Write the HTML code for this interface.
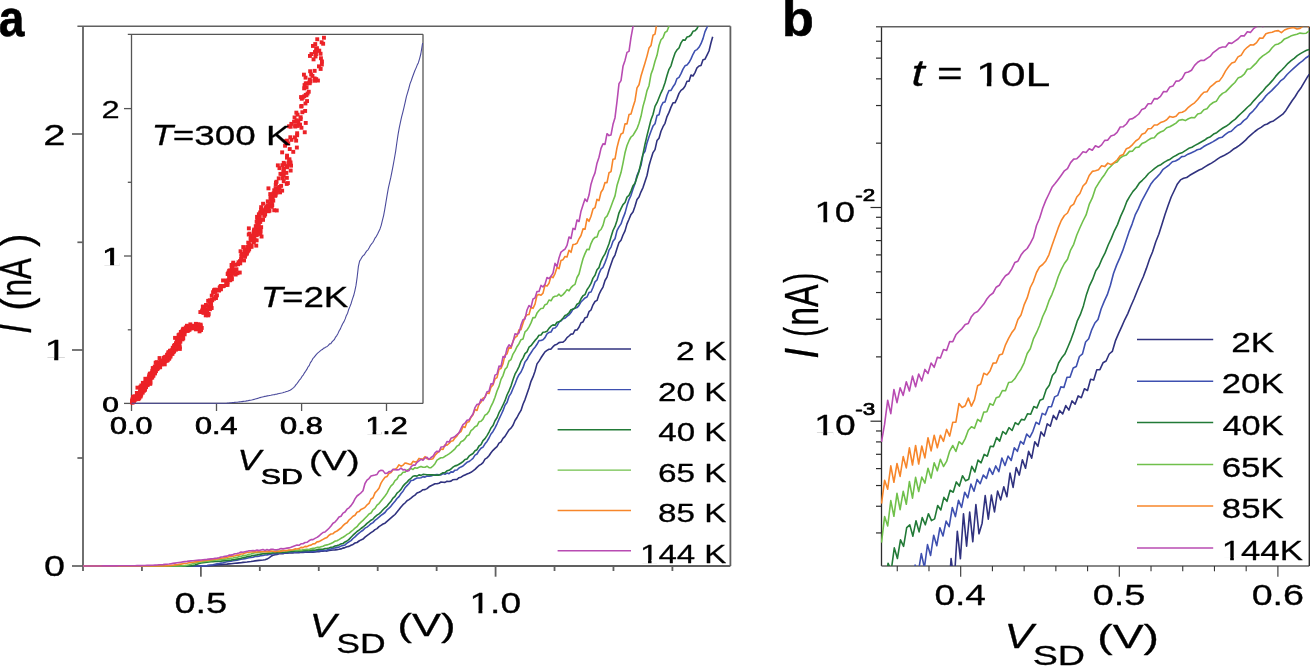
<!DOCTYPE html>
<html><head><meta charset="utf-8"><style>
html,body{margin:0;padding:0;background:#fff;}
svg{display:block;font-family:"Liberation Sans",sans-serif;filter:blur(0.35px);}
</style></head><body>
<svg width="1310" height="666" viewBox="0 0 1310 666">
<rect width="1310" height="666" fill="#fff"/>
<defs><clipPath id="ca"><rect x="82" y="26.3" width="648.4" height="540.7"/></clipPath><clipPath id="ci"><rect x="130.5" y="34.3" width="292.5" height="370"/></clipPath><clipPath id="cb"><rect x="880.8" y="26.7" width="428.5" height="539.3"/></clipPath></defs>
<line x1="83.00" y1="26.30" x2="83.00" y2="571.00" stroke="#606060" stroke-width="1.8"/>
<line x1="83.00" y1="566.00" x2="730.40" y2="566.00" stroke="#606060" stroke-width="1.8"/>
<line x1="730.40" y1="26.30" x2="730.40" y2="566.00" stroke="#606060" stroke-width="1.8"/>
<line x1="77.40" y1="26.30" x2="730.40" y2="26.30" stroke="#606060" stroke-width="1.6"/>
<line x1="72.00" y1="566.00" x2="83.00" y2="566.00" stroke="#606060" stroke-width="1.7"/>
<line x1="72.00" y1="350.00" x2="83.00" y2="350.00" stroke="#606060" stroke-width="1.7"/>
<line x1="72.00" y1="134.00" x2="83.00" y2="134.00" stroke="#606060" stroke-width="1.7"/>
<line x1="77.40" y1="458.00" x2="83.00" y2="458.00" stroke="#606060" stroke-width="1.7"/>
<line x1="77.40" y1="242.30" x2="83.00" y2="242.30" stroke="#606060" stroke-width="1.7"/>
<line x1="200.88" y1="566.00" x2="200.88" y2="576.70" stroke="#606060" stroke-width="1.8"/>
<line x1="495.58" y1="566.00" x2="495.58" y2="576.70" stroke="#606060" stroke-width="1.8"/>
<line x1="141.94" y1="566.00" x2="141.94" y2="571.00" stroke="#606060" stroke-width="1.8"/>
<line x1="259.82" y1="566.00" x2="259.82" y2="571.00" stroke="#606060" stroke-width="1.8"/>
<line x1="318.76" y1="566.00" x2="318.76" y2="571.00" stroke="#606060" stroke-width="1.8"/>
<line x1="377.70" y1="566.00" x2="377.70" y2="571.00" stroke="#606060" stroke-width="1.8"/>
<line x1="436.64" y1="566.00" x2="436.64" y2="571.00" stroke="#606060" stroke-width="1.8"/>
<line x1="554.52" y1="566.00" x2="554.52" y2="571.00" stroke="#606060" stroke-width="1.8"/>
<line x1="613.46" y1="566.00" x2="613.46" y2="571.00" stroke="#606060" stroke-width="1.8"/>
<line x1="672.40" y1="566.00" x2="672.40" y2="571.00" stroke="#606060" stroke-width="1.8"/>
<line x1="131.50" y1="34.30" x2="131.50" y2="411.00" stroke="#555555" stroke-width="1.3"/>
<line x1="131.50" y1="403.40" x2="423.00" y2="403.40" stroke="#555555" stroke-width="1.3"/>
<line x1="423.00" y1="34.30" x2="423.00" y2="403.40" stroke="#555555" stroke-width="1.3"/>
<line x1="127.80" y1="34.30" x2="423.00" y2="34.30" stroke="#555555" stroke-width="1.3"/>
<line x1="124.00" y1="403.40" x2="131.50" y2="403.40" stroke="#555555" stroke-width="1.3"/>
<line x1="124.00" y1="256.00" x2="131.50" y2="256.00" stroke="#555555" stroke-width="1.3"/>
<line x1="124.00" y1="108.60" x2="131.50" y2="108.60" stroke="#555555" stroke-width="1.3"/>
<line x1="127.80" y1="329.80" x2="131.50" y2="329.80" stroke="#555555" stroke-width="1.3"/>
<line x1="127.80" y1="182.30" x2="131.50" y2="182.30" stroke="#555555" stroke-width="1.3"/>
<line x1="216.50" y1="403.40" x2="216.50" y2="411.00" stroke="#555555" stroke-width="1.3"/>
<line x1="301.60" y1="403.40" x2="301.60" y2="411.00" stroke="#555555" stroke-width="1.3"/>
<line x1="386.50" y1="403.40" x2="386.50" y2="411.00" stroke="#555555" stroke-width="1.3"/>
<line x1="881.50" y1="26.70" x2="881.50" y2="566.00" stroke="#2c2c2c" stroke-width="1.3"/>
<line x1="881.50" y1="566.00" x2="1309.30" y2="566.00" stroke="#606060" stroke-width="1.6"/>
<line x1="1309.30" y1="26.70" x2="1309.30" y2="566.00" stroke="#2c2c2c" stroke-width="1.4"/>
<line x1="876.00" y1="26.70" x2="1309.30" y2="26.70" stroke="#606060" stroke-width="1.5"/>
<line x1="870.50" y1="207.50" x2="881.50" y2="207.50" stroke="#2c2c2c" stroke-width="1.2"/>
<line x1="870.50" y1="421.20" x2="881.50" y2="421.20" stroke="#2c2c2c" stroke-width="1.2"/>
<line x1="876.00" y1="143.17" x2="881.50" y2="143.17" stroke="#2c2c2c" stroke-width="1.2"/>
<line x1="876.00" y1="105.54" x2="881.50" y2="105.54" stroke="#2c2c2c" stroke-width="1.2"/>
<line x1="876.00" y1="78.84" x2="881.50" y2="78.84" stroke="#2c2c2c" stroke-width="1.2"/>
<line x1="876.00" y1="58.13" x2="881.50" y2="58.13" stroke="#2c2c2c" stroke-width="1.2"/>
<line x1="876.00" y1="41.21" x2="881.50" y2="41.21" stroke="#2c2c2c" stroke-width="1.2"/>
<line x1="876.00" y1="356.87" x2="881.50" y2="356.87" stroke="#2c2c2c" stroke-width="1.2"/>
<line x1="876.00" y1="319.24" x2="881.50" y2="319.24" stroke="#2c2c2c" stroke-width="1.2"/>
<line x1="876.00" y1="292.54" x2="881.50" y2="292.54" stroke="#2c2c2c" stroke-width="1.2"/>
<line x1="876.00" y1="271.83" x2="881.50" y2="271.83" stroke="#2c2c2c" stroke-width="1.2"/>
<line x1="876.00" y1="254.91" x2="881.50" y2="254.91" stroke="#2c2c2c" stroke-width="1.2"/>
<line x1="876.00" y1="240.60" x2="881.50" y2="240.60" stroke="#2c2c2c" stroke-width="1.2"/>
<line x1="876.00" y1="228.21" x2="881.50" y2="228.21" stroke="#2c2c2c" stroke-width="1.2"/>
<line x1="876.00" y1="217.28" x2="881.50" y2="217.28" stroke="#2c2c2c" stroke-width="1.2"/>
<line x1="876.00" y1="532.94" x2="881.50" y2="532.94" stroke="#2c2c2c" stroke-width="1.2"/>
<line x1="876.00" y1="506.24" x2="881.50" y2="506.24" stroke="#2c2c2c" stroke-width="1.2"/>
<line x1="876.00" y1="485.53" x2="881.50" y2="485.53" stroke="#2c2c2c" stroke-width="1.2"/>
<line x1="876.00" y1="468.61" x2="881.50" y2="468.61" stroke="#2c2c2c" stroke-width="1.2"/>
<line x1="876.00" y1="454.30" x2="881.50" y2="454.30" stroke="#2c2c2c" stroke-width="1.2"/>
<line x1="876.00" y1="441.91" x2="881.50" y2="441.91" stroke="#2c2c2c" stroke-width="1.2"/>
<line x1="876.00" y1="430.98" x2="881.50" y2="430.98" stroke="#2c2c2c" stroke-width="1.2"/>
<line x1="897.26" y1="566.00" x2="897.26" y2="571.30" stroke="#333333" stroke-width="1.1"/>
<line x1="928.98" y1="566.00" x2="928.98" y2="571.30" stroke="#333333" stroke-width="1.1"/>
<line x1="960.70" y1="566.00" x2="960.70" y2="576.70" stroke="#333333" stroke-width="1.1"/>
<line x1="992.42" y1="566.00" x2="992.42" y2="571.30" stroke="#333333" stroke-width="1.1"/>
<line x1="1024.14" y1="566.00" x2="1024.14" y2="571.30" stroke="#333333" stroke-width="1.1"/>
<line x1="1055.86" y1="566.00" x2="1055.86" y2="571.30" stroke="#333333" stroke-width="1.1"/>
<line x1="1087.58" y1="566.00" x2="1087.58" y2="571.30" stroke="#333333" stroke-width="1.1"/>
<line x1="1119.30" y1="566.00" x2="1119.30" y2="576.70" stroke="#333333" stroke-width="1.1"/>
<line x1="1151.02" y1="566.00" x2="1151.02" y2="571.30" stroke="#333333" stroke-width="1.1"/>
<line x1="1182.74" y1="566.00" x2="1182.74" y2="571.30" stroke="#333333" stroke-width="1.1"/>
<line x1="1214.46" y1="566.00" x2="1214.46" y2="571.30" stroke="#333333" stroke-width="1.1"/>
<line x1="1246.18" y1="566.00" x2="1246.18" y2="571.30" stroke="#333333" stroke-width="1.1"/>
<line x1="1277.90" y1="566.00" x2="1277.90" y2="576.70" stroke="#333333" stroke-width="1.1"/>
<polyline points="83.0,566.0 85.0,566.0 87.0,566.0 89.0,566.0 91.0,566.0 93.0,566.0 95.0,566.0 97.0,566.0 99.0,566.0 101.0,566.0 103.0,566.0 105.0,566.0 107.0,566.0 109.0,566.0 111.0,566.0 113.0,566.0 115.0,566.0 117.0,566.0 119.0,566.0 121.0,566.0 123.0,566.0 125.0,566.0 127.0,566.0 129.0,566.0 131.0,566.0 133.0,566.0 135.0,566.0 137.0,566.0 139.0,566.0 141.0,566.0 143.0,566.0 145.0,566.0 147.0,566.0 149.0,566.0 151.0,566.0 153.0,566.0 155.0,566.0 157.0,566.0 159.0,566.0 161.0,566.0 163.0,566.0 165.0,566.0 167.0,566.0 169.0,566.0 171.0,566.0 173.0,566.0 175.0,566.0 177.0,566.0 179.0,566.0 181.0,566.0 183.0,566.0 185.0,566.0 187.0,566.0 189.0,566.0 191.0,566.0 193.0,566.0 195.0,566.0 197.0,566.0 199.0,566.0 201.0,566.0 203.0,566.0 205.0,565.9 207.0,565.8 209.0,565.6 211.0,565.5 213.0,565.3 215.0,565.1 217.0,564.9 219.0,564.8 221.0,564.6 223.0,564.4 225.0,564.2 227.0,564.1 229.0,563.9 231.0,563.7 233.0,563.5 235.0,563.3 237.0,563.1 239.0,562.9 241.0,562.7 243.0,562.4 245.0,562.2 247.0,562.0 249.0,561.7 251.0,561.5 253.0,561.2 255.0,560.9 257.0,560.6 259.0,560.4 261.0,560.2 263.0,560.0 265.0,559.7 267.0,559.1 269.0,557.8 271.0,556.3 273.0,555.3 275.0,554.8 277.0,554.5 279.0,553.8 281.0,553.6 283.0,553.7 285.0,553.1 287.0,553.3 289.0,552.9 291.0,552.7 293.0,552.9 295.0,552.5 297.0,552.7 299.0,552.7 301.0,552.2 303.0,552.4 305.0,552.1 307.0,552.3 309.0,552.3 311.0,552.2 313.0,552.1 315.0,552.0 317.0,551.6 319.0,551.6 321.0,551.2 323.0,551.1 325.0,550.8 327.0,551.1 329.0,550.5 331.0,550.2 333.0,550.0 335.0,549.9 337.0,549.6 339.0,549.3 341.0,548.9 343.0,548.1 345.0,547.6 347.0,546.8 349.0,546.4 351.0,545.2 353.0,544.4 355.0,543.0 357.0,542.5 359.0,541.0 361.0,539.9 363.0,539.1 365.0,537.1 367.0,535.6 369.0,534.2 371.0,532.7 373.0,531.4 375.0,529.6 377.0,528.6 379.0,526.6 381.0,525.3 383.0,524.0 385.0,523.2 387.0,521.3 389.0,519.6 391.0,517.9 393.0,516.2 395.0,514.5 397.0,512.0 399.0,509.6 401.0,507.0 403.0,504.7 405.0,503.0 407.0,500.8 409.0,499.6 411.0,498.1 413.0,496.4 415.0,495.1 417.0,493.0 419.0,492.2 421.0,491.2 423.0,489.7 425.0,489.6 427.0,488.6 429.0,486.8 431.0,485.7 433.0,484.8 435.0,483.7 437.0,483.7 439.0,483.2 441.0,482.0 443.0,482.3 445.0,482.4 447.0,481.3 449.0,481.5 451.0,481.1 453.0,479.7 455.0,479.5 457.0,479.4 459.0,477.7 461.0,477.2 463.0,475.8 465.0,474.9 467.0,474.0 469.0,473.3 471.0,472.3 473.0,470.9 475.0,469.4 477.0,467.4 479.0,465.5 481.0,464.4 483.0,462.6 485.0,459.1 487.0,457.9 489.0,455.8 491.0,452.7 493.0,450.3 495.0,448.4 497.0,446.6 499.0,443.1 501.0,441.9 503.0,438.3 505.0,436.4 507.0,433.1 509.0,429.8 511.0,428.1 513.0,425.3 515.0,420.5 517.0,417.5 519.0,413.7 521.0,410.4 523.0,404.2 525.0,399.6 527.0,393.8 529.0,388.1 531.0,381.3 533.0,376.9 535.0,371.3 537.0,363.9 539.0,361.1 541.0,357.8 543.0,354.8 545.0,351.9 547.0,350.4 549.0,349.2 551.0,349.1 553.0,346.7 555.0,344.9 557.0,344.2 559.0,342.6 561.0,342.2 563.0,342.1 565.0,340.5 567.0,337.6 569.0,336.0 571.0,334.1 573.0,334.0 575.0,330.1 577.0,329.9 579.0,327.2 581.0,322.7 583.0,321.9 585.0,317.8 587.0,317.2 589.0,311.7 591.0,310.0 593.0,304.8 595.0,301.5 597.0,300.4 599.0,294.5 601.0,290.4 603.0,287.1 605.0,280.5 607.0,277.1 609.0,270.0 611.0,264.3 613.0,258.5 615.0,255.1 617.0,248.6 619.0,242.6 621.0,240.2 623.0,235.0 625.0,230.9 627.0,223.9 629.0,219.3 631.0,214.4 633.0,211.9 635.0,206.3 637.0,199.5 639.0,197.0 641.0,191.8 643.0,187.6 645.0,181.4 647.0,175.5 649.0,165.8 651.0,158.9 653.0,152.6 655.0,149.6 657.0,140.6 659.0,138.2 661.0,131.2 663.0,126.7 665.0,123.3 667.0,116.6 669.0,112.4 671.0,107.1 673.0,102.8 675.0,102.8 677.0,98.6 679.0,93.4 681.0,90.4 683.0,88.9 685.0,86.2 687.0,81.2 689.0,81.3 691.0,75.1 693.0,76.0 695.0,72.6 697.0,67.8 699.0,66.0 701.0,65.5 703.0,59.8 705.0,59.2 707.0,55.1 709.0,51.0 711.0,42.8 712.7,36.8" fill="none" stroke="#30327f" stroke-width="1.6" stroke-linejoin="round" clip-path="url(#ca)"/>
<polyline points="83.0,566.0 85.0,566.0 87.0,566.0 89.0,566.0 91.0,566.0 93.0,566.0 95.0,566.0 97.0,566.0 99.0,566.0 101.0,566.0 103.0,566.0 105.0,566.0 107.0,566.0 109.0,566.0 111.0,566.0 113.0,566.0 115.0,566.0 117.0,566.0 119.0,566.0 121.0,566.0 123.0,566.0 125.0,566.0 127.0,566.0 129.0,566.0 131.0,566.0 133.0,566.0 135.0,566.0 137.0,566.0 139.0,566.0 141.0,566.0 143.0,566.0 145.0,566.0 147.0,566.0 149.0,566.0 151.0,566.0 153.0,566.0 155.0,566.0 157.0,566.0 159.0,566.0 161.0,566.0 163.0,566.0 165.0,566.0 167.0,566.0 169.0,566.0 171.0,566.0 173.0,566.0 175.0,566.0 177.0,566.0 179.0,566.0 181.0,566.0 183.0,566.0 185.0,566.0 187.0,566.0 189.0,566.0 191.0,566.0 193.0,566.0 195.0,566.0 197.0,566.0 199.0,566.0 201.0,566.0 203.0,565.9 205.0,565.8 207.0,565.6 209.0,565.3 211.0,565.0 213.0,564.7 215.0,564.3 217.0,563.9 219.0,563.5 221.0,563.1 223.0,562.7 225.0,562.2 227.0,561.8 229.0,561.5 231.0,561.1 233.0,560.8 235.0,560.4 237.0,560.1 239.0,559.7 241.0,559.3 243.0,559.0 245.0,558.6 247.0,558.2 249.0,557.8 251.0,557.5 253.0,557.2 255.0,556.5 257.0,556.4 259.0,556.2 261.0,555.6 263.0,555.5 265.0,555.0 267.0,554.9 269.0,554.4 271.0,554.1 273.0,553.7 275.0,553.8 277.0,553.7 279.0,553.2 281.0,553.2 283.0,553.0 285.0,552.7 287.0,552.6 289.0,552.1 291.0,552.0 293.0,552.2 295.0,552.1 297.0,551.9 299.0,551.9 301.0,551.7 303.0,551.8 305.0,551.6 307.0,551.4 309.0,551.5 311.0,551.6 313.0,551.2 315.0,551.4 317.0,550.8 319.0,550.8 321.0,550.6 323.0,550.4 325.0,550.4 327.0,550.1 329.0,549.6 331.0,548.9 333.0,548.3 335.0,547.9 337.0,547.4 339.0,547.1 341.0,546.1 343.0,545.5 345.0,544.9 347.0,543.2 349.0,541.8 351.0,540.6 353.0,538.5 355.0,536.9 357.0,534.9 359.0,533.2 361.0,531.5 363.0,530.3 365.0,528.1 367.0,527.1 369.0,525.5 371.0,523.7 373.0,522.6 375.0,520.4 377.0,518.9 379.0,517.2 381.0,515.4 383.0,514.0 385.0,512.5 387.0,509.8 389.0,508.2 391.0,506.1 393.0,503.5 395.0,501.3 397.0,498.5 399.0,496.6 401.0,493.5 403.0,491.2 405.0,487.8 407.0,485.6 409.0,483.5 411.0,480.5 413.0,480.2 415.0,479.0 417.0,478.0 419.0,478.0 421.0,477.7 423.0,476.6 425.0,477.1 427.0,476.0 429.0,476.2 431.0,475.9 433.0,475.2 435.0,474.7 437.0,474.6 439.0,474.9 441.0,474.9 443.0,473.5 445.0,474.2 447.0,473.1 449.0,473.7 451.0,471.9 453.0,472.1 455.0,470.2 457.0,470.0 459.0,468.0 461.0,466.9 463.0,466.0 465.0,464.1 467.0,462.3 469.0,461.6 471.0,460.0 473.0,458.3 475.0,455.1 477.0,454.0 479.0,450.7 481.0,448.3 483.0,447.1 485.0,443.8 487.0,441.4 489.0,438.0 491.0,434.0 493.0,431.4 495.0,427.8 497.0,423.8 499.0,419.2 501.0,415.0 503.0,410.7 505.0,405.2 507.0,402.6 509.0,396.4 511.0,393.4 513.0,388.5 515.0,384.0 517.0,378.7 519.0,374.7 521.0,372.0 523.0,367.7 525.0,362.0 527.0,359.6 529.0,355.7 531.0,352.7 533.0,349.6 535.0,347.2 537.0,344.3 539.0,340.6 541.0,340.5 543.0,339.7 545.0,337.6 547.0,333.8 549.0,332.4 551.0,332.0 553.0,328.3 555.0,328.0 557.0,326.0 559.0,322.1 561.0,320.9 563.0,318.7 565.0,318.2 567.0,316.3 569.0,314.9 571.0,312.6 573.0,309.0 575.0,308.2 577.0,307.6 579.0,305.4 581.0,301.8 583.0,300.0 585.0,297.9 587.0,297.0 589.0,292.6 591.0,292.0 593.0,287.5 595.0,281.9 597.0,280.0 599.0,273.8 601.0,269.1 603.0,267.3 605.0,262.6 607.0,257.3 609.0,250.1 611.0,247.1 613.0,241.3 615.0,238.7 617.0,230.6 619.0,226.9 621.0,223.9 623.0,218.1 625.0,213.1 627.0,205.6 629.0,199.6 631.0,195.3 633.0,189.1 635.0,183.5 637.0,175.5 639.0,170.8 641.0,165.3 643.0,154.3 645.0,151.2 647.0,142.9 649.0,136.7 651.0,131.2 653.0,126.1 655.0,123.8 657.0,115.6 659.0,114.8 661.0,106.5 663.0,102.6 665.0,101.9 667.0,95.3 669.0,90.5 671.0,90.4 673.0,86.8 675.0,84.1 677.0,78.6 679.0,77.4 681.0,73.6 683.0,69.1 685.0,65.8 687.0,64.9 689.0,62.6 691.0,58.9 693.0,54.3 695.0,50.6 697.0,49.6 699.0,47.3 701.0,43.7 703.0,38.6 705.0,31.6 707.0,27.3 709.0,22.5 711.0,16.4 712.0,16.5" fill="none" stroke="#3e50b0" stroke-width="1.6" stroke-linejoin="round" clip-path="url(#ca)"/>
<polyline points="83.0,566.0 85.0,566.0 87.0,566.0 89.0,566.0 91.0,566.0 93.0,566.0 95.0,566.0 97.0,566.0 99.0,566.0 101.0,566.0 103.0,566.0 105.0,566.0 107.0,566.0 109.0,566.0 111.0,566.0 113.0,566.0 115.0,566.0 117.0,566.0 119.0,566.0 121.0,566.0 123.0,566.0 125.0,566.0 127.0,566.0 129.0,566.0 131.0,566.0 133.0,566.0 135.0,566.0 137.0,566.0 139.0,566.0 141.0,566.0 143.0,566.0 145.0,566.0 147.0,566.0 149.0,566.0 151.0,566.0 153.0,566.0 155.0,566.0 157.0,566.0 159.0,566.0 161.0,566.0 163.0,566.0 165.0,566.0 167.0,566.0 169.0,566.0 171.0,566.0 173.0,566.0 175.0,566.0 177.0,566.0 179.0,566.0 181.0,566.0 183.0,566.0 185.0,566.0 187.0,566.0 189.0,566.0 191.0,565.9 193.0,565.5 195.0,564.9 197.0,564.2 199.0,563.5 201.0,563.0 203.0,562.7 205.0,562.4 207.0,562.2 209.0,562.0 211.0,561.8 213.0,561.7 215.0,561.5 217.0,561.4 219.0,561.2 221.0,561.1 223.0,560.9 225.0,560.7 227.0,560.5 229.0,560.3 231.0,560.1 233.0,559.8 235.0,559.5 237.0,559.1 239.0,558.7 241.0,558.3 243.0,557.8 245.0,557.4 247.0,556.7 249.0,556.2 251.0,556.1 253.0,555.5 255.0,555.2 257.0,554.9 259.0,554.5 261.0,554.1 263.0,553.7 265.0,553.7 267.0,553.5 269.0,553.0 271.0,553.2 273.0,552.7 275.0,552.5 277.0,552.6 279.0,552.2 281.0,552.4 283.0,552.2 285.0,552.1 287.0,551.9 289.0,551.7 291.0,551.3 293.0,551.5 295.0,551.0 297.0,551.0 299.0,551.0 301.0,550.9 303.0,550.6 305.0,550.8 307.0,550.4 309.0,550.3 311.0,550.4 313.0,550.0 315.0,550.2 317.0,549.7 319.0,549.3 321.0,549.3 323.0,549.3 325.0,548.5 327.0,548.5 329.0,548.0 331.0,547.2 333.0,547.0 335.0,546.0 337.0,545.6 339.0,545.0 341.0,543.9 343.0,543.5 345.0,542.0 347.0,541.0 349.0,539.4 351.0,537.2 353.0,535.2 355.0,533.3 357.0,531.5 359.0,530.2 361.0,528.5 363.0,527.0 365.0,525.4 367.0,523.4 369.0,521.8 371.0,520.2 373.0,519.1 375.0,516.8 377.0,515.1 379.0,513.8 381.0,512.1 383.0,509.8 385.0,507.8 387.0,506.1 389.0,503.5 391.0,501.2 393.0,498.1 395.0,496.3 397.0,493.1 399.0,491.5 401.0,489.4 403.0,486.1 405.0,483.9 407.0,482.1 409.0,479.9 411.0,478.3 413.0,476.3 415.0,475.8 417.0,476.1 419.0,474.9 421.0,475.4 423.0,474.4 425.0,474.5 427.0,474.8 429.0,474.9 431.0,474.7 433.0,474.9 435.0,475.2 437.0,475.1 439.0,475.1 441.0,473.9 443.0,472.8 445.0,472.6 447.0,470.8 449.0,470.3 451.0,469.0 453.0,467.2 455.0,465.9 457.0,465.4 459.0,464.2 461.0,463.0 463.0,461.6 465.0,459.5 467.0,458.9 469.0,456.2 471.0,454.7 473.0,453.5 475.0,450.8 477.0,449.7 479.0,446.0 481.0,444.7 483.0,440.6 485.0,438.6 487.0,435.6 489.0,432.1 491.0,428.0 493.0,425.6 495.0,420.8 497.0,417.7 499.0,412.7 501.0,409.1 503.0,405.0 505.0,400.7 507.0,395.0 509.0,390.8 511.0,386.1 513.0,379.7 515.0,374.2 517.0,370.6 519.0,366.6 521.0,361.3 523.0,358.1 525.0,353.7 527.0,351.9 529.0,347.2 531.0,345.7 533.0,343.0 535.0,340.4 537.0,338.3 539.0,335.3 541.0,335.0 543.0,332.2 545.0,332.0 547.0,331.2 549.0,328.4 551.0,326.2 553.0,324.9 555.0,325.3 557.0,322.2 559.0,321.8 561.0,320.3 563.0,318.3 565.0,315.5 567.0,314.7 569.0,312.8 571.0,309.7 573.0,309.3 575.0,307.9 577.0,304.2 579.0,303.1 581.0,298.8 583.0,295.7 585.0,294.6 587.0,289.8 589.0,286.9 591.0,283.4 593.0,278.1 595.0,275.3 597.0,269.8 599.0,267.6 601.0,261.3 603.0,257.2 605.0,253.9 607.0,249.0 609.0,243.8 611.0,237.0 613.0,230.5 615.0,226.4 617.0,220.5 619.0,212.8 621.0,208.6 623.0,204.6 625.0,202.5 627.0,197.1 629.0,195.4 631.0,191.1 633.0,185.7 635.0,183.3 637.0,177.2 639.0,171.5 641.0,162.5 643.0,153.9 645.0,144.2 647.0,135.6 649.0,127.6 651.0,119.8 653.0,114.5 655.0,106.4 657.0,102.7 659.0,97.7 661.0,92.8 663.0,88.6 665.0,82.8 667.0,75.5 669.0,69.3 671.0,65.8 673.0,59.0 675.0,53.2 677.0,49.9 679.0,48.0 681.0,42.9 683.0,39.9 685.0,40.3 687.0,37.0 689.0,36.5 691.0,35.0 693.0,31.3 695.0,30.8 697.0,28.6 699.0,24.3 701.0,23.4 703.0,18.2 705.0,14.0" fill="none" stroke="#227a37" stroke-width="1.6" stroke-linejoin="round" clip-path="url(#ca)"/>
<polyline points="83.0,566.0 85.0,566.0 87.0,566.0 89.0,566.0 91.0,566.0 93.0,566.0 95.0,566.0 97.0,566.0 99.0,566.0 101.0,566.0 103.0,566.0 105.0,566.0 107.0,566.0 109.0,566.0 111.0,566.0 113.0,566.0 115.0,566.0 117.0,566.0 119.0,566.0 121.0,566.0 123.0,566.0 125.0,566.0 127.0,566.0 129.0,566.0 131.0,566.0 133.0,566.0 135.0,566.0 137.0,566.0 139.0,566.0 141.0,566.0 143.0,566.0 145.0,566.0 147.0,566.0 149.0,566.0 151.0,566.0 153.0,566.0 155.0,566.0 157.0,566.0 159.0,566.0 161.0,566.0 163.0,566.0 165.0,566.0 167.0,566.0 169.0,566.0 171.0,566.0 173.0,566.0 175.0,566.0 177.0,566.0 179.0,566.0 181.0,566.0 183.0,565.8 185.0,565.6 187.0,565.2 189.0,564.8 191.0,564.3 193.0,563.8 195.0,563.3 197.0,562.8 199.0,562.4 201.0,562.0 203.0,561.7 205.0,561.4 207.0,561.2 209.0,560.9 211.0,560.7 213.0,560.5 215.0,560.2 217.0,560.0 219.0,559.8 221.0,559.6 223.0,559.4 225.0,559.1 227.0,558.9 229.0,558.6 231.0,558.3 233.0,558.0 235.0,557.6 237.0,557.4 239.0,556.5 241.0,556.4 243.0,555.6 245.0,555.5 247.0,555.0 249.0,554.2 251.0,554.0 253.0,553.3 255.0,552.8 257.0,552.8 259.0,552.5 261.0,552.0 263.0,551.8 265.0,551.6 267.0,551.9 269.0,551.4 271.0,551.6 273.0,551.6 275.0,551.5 277.0,551.0 279.0,551.4 281.0,550.8 283.0,550.8 285.0,550.7 287.0,551.0 289.0,550.6 291.0,550.3 293.0,550.3 295.0,550.1 297.0,550.5 299.0,549.9 301.0,550.4 303.0,549.7 305.0,549.5 307.0,549.3 309.0,549.6 311.0,548.7 313.0,548.4 315.0,548.1 317.0,547.4 319.0,547.4 321.0,546.8 323.0,546.2 325.0,545.2 327.0,544.9 329.0,544.3 331.0,543.4 333.0,542.5 335.0,541.1 337.0,540.7 339.0,539.6 341.0,538.3 343.0,537.2 345.0,536.0 347.0,534.4 349.0,533.4 351.0,531.6 353.0,530.0 355.0,528.2 357.0,526.7 359.0,524.1 361.0,522.2 363.0,520.4 365.0,518.3 367.0,516.2 369.0,514.0 371.0,513.0 373.0,509.9 375.0,508.4 377.0,505.2 379.0,503.6 381.0,501.0 383.0,498.5 385.0,496.0 387.0,493.1 389.0,489.1 391.0,485.9 393.0,484.1 395.0,480.7 397.0,479.2 399.0,475.4 401.0,474.7 403.0,472.2 405.0,472.1 407.0,470.2 409.0,469.3 411.0,468.6 413.0,469.4 415.0,467.7 417.0,468.2 419.0,467.3 421.0,466.4 423.0,467.2 425.0,467.2 427.0,466.2 429.0,467.7 431.0,467.6 433.0,466.0 435.0,463.7 437.0,460.1 439.0,458.8 441.0,457.7 443.0,457.7 445.0,456.3 447.0,455.1 449.0,453.8 451.0,452.4 453.0,450.7 455.0,448.8 457.0,446.1 459.0,445.0 461.0,441.7 463.0,440.8 465.0,438.9 467.0,435.8 469.0,434.9 471.0,430.7 473.0,429.1 475.0,426.7 477.0,425.8 479.0,421.8 481.0,421.3 483.0,419.1 485.0,415.1 487.0,414.0 489.0,411.3 491.0,406.3 493.0,402.4 495.0,397.3 497.0,391.0 499.0,386.4 501.0,379.4 503.0,375.6 505.0,369.4 507.0,367.2 509.0,361.0 511.0,359.6 513.0,354.1 515.0,350.9 517.0,346.7 519.0,343.7 521.0,339.7 523.0,339.0 525.0,331.9 527.0,330.2 529.0,326.8 531.0,322.9 533.0,317.6 535.0,317.7 537.0,313.1 539.0,310.5 541.0,308.5 543.0,308.3 545.0,304.7 547.0,304.0 549.0,300.0 551.0,300.8 553.0,297.3 555.0,296.3 557.0,296.0 559.0,294.2 561.0,296.2 563.0,294.6 565.0,292.4 567.0,289.6 569.0,290.8 571.0,287.6 573.0,285.7 575.0,284.4 577.0,277.5 579.0,274.0 581.0,266.1 583.0,258.7 585.0,253.6 587.0,249.3 589.0,249.7 591.0,243.6 593.0,239.4 595.0,237.4 597.0,237.0 599.0,231.1 601.0,229.5 603.0,225.4 605.0,218.0 607.0,216.1 609.0,211.7 611.0,206.5 613.0,201.0 615.0,195.9 617.0,185.6 619.0,179.0 621.0,172.6 623.0,163.1 625.0,152.8 627.0,145.5 629.0,140.7 631.0,137.0 633.0,135.4 635.0,132.0 637.0,128.7 639.0,123.2 641.0,116.3 643.0,106.4 645.0,99.2 647.0,90.6 649.0,85.7 651.0,74.3 653.0,68.9 655.0,61.3 657.0,55.3 659.0,45.5 661.0,39.8 663.0,37.8 665.0,32.4 667.0,31.2 669.0,26.1 671.0,23.6 673.0,17.6 675.0,16.2" fill="none" stroke="#70c04b" stroke-width="1.6" stroke-linejoin="round" clip-path="url(#ca)"/>
<polyline points="83.0,566.0 85.0,566.0 87.0,566.0 89.0,566.0 91.0,566.0 93.0,566.0 95.0,566.0 97.0,566.0 99.0,566.0 101.0,566.0 103.0,566.0 105.0,566.0 107.0,566.0 109.0,566.0 111.0,566.0 113.0,566.0 115.0,566.0 117.0,566.0 119.0,566.0 121.0,566.0 123.0,566.0 125.0,566.0 127.0,566.0 129.0,566.0 131.0,566.0 133.0,566.0 135.0,566.0 137.0,566.0 139.0,566.0 141.0,566.0 143.0,566.0 145.0,566.0 147.0,566.0 149.0,566.0 151.0,566.0 153.0,566.0 155.0,566.0 157.0,566.0 159.0,566.0 161.0,566.0 163.0,566.0 165.0,565.9 167.0,565.7 169.0,565.6 171.0,565.4 173.0,565.2 175.0,564.9 177.0,564.7 179.0,564.4 181.0,564.1 183.0,563.8 185.0,563.5 187.0,563.2 189.0,562.8 191.0,562.5 193.0,562.2 195.0,561.9 197.0,561.6 199.0,561.3 201.0,561.0 203.0,560.7 205.0,560.5 207.0,560.2 209.0,559.9 211.0,559.7 213.0,559.4 215.0,559.1 217.0,558.9 219.0,558.6 221.0,558.3 223.0,558.0 225.0,557.7 227.0,557.4 229.0,556.8 231.0,556.4 233.0,556.1 235.0,555.8 237.0,555.1 239.0,555.1 241.0,554.0 243.0,554.0 245.0,553.1 247.0,552.5 249.0,552.3 251.0,552.0 253.0,551.8 255.0,551.9 257.0,552.0 259.0,551.4 261.0,551.8 263.0,551.7 265.0,551.7 267.0,551.4 269.0,551.6 271.0,551.1 273.0,551.2 275.0,551.7 277.0,551.5 279.0,551.4 281.0,551.4 283.0,550.6 285.0,550.6 287.0,550.6 289.0,550.0 291.0,550.0 293.0,549.8 295.0,548.9 297.0,549.0 299.0,548.6 301.0,547.4 303.0,547.6 305.0,546.4 307.0,546.6 309.0,545.5 311.0,545.1 313.0,543.9 315.0,543.7 317.0,541.9 319.0,541.6 321.0,540.5 323.0,539.4 325.0,538.3 327.0,537.4 329.0,535.2 331.0,534.0 333.0,533.7 335.0,531.9 337.0,531.0 339.0,529.5 341.0,528.0 343.0,525.7 345.0,523.8 347.0,522.8 349.0,520.0 351.0,518.3 353.0,516.3 355.0,515.2 357.0,512.2 359.0,511.6 361.0,509.4 363.0,508.6 365.0,507.3 367.0,504.9 369.0,503.4 371.0,499.0 373.0,497.8 375.0,492.9 377.0,490.8 379.0,488.2 381.0,483.1 383.0,479.9 385.0,477.3 387.0,476.5 389.0,473.4 391.0,472.6 393.0,469.8 395.0,469.4 397.0,467.9 399.0,464.8 401.0,466.2 403.0,465.2 405.0,463.0 407.0,463.4 409.0,464.1 411.0,464.5 413.0,461.3 415.0,462.1 417.0,461.4 419.0,458.4 421.0,459.1 423.0,459.1 425.0,456.7 427.0,458.6 429.0,459.1 431.0,459.2 433.0,458.7 435.0,455.3 437.0,453.2 439.0,451.7 441.0,449.0 443.0,449.5 445.0,444.9 447.0,445.1 449.0,443.5 451.0,441.2 453.0,440.8 455.0,437.8 457.0,435.9 459.0,432.7 461.0,431.5 463.0,426.6 465.0,427.4 467.0,422.3 469.0,421.8 471.0,417.3 473.0,414.7 475.0,409.5 477.0,410.5 479.0,404.1 481.0,402.1 483.0,398.1 485.0,397.1 487.0,393.0 489.0,393.5 491.0,387.1 493.0,384.9 495.0,378.9 497.0,377.6 499.0,369.3 501.0,368.5 503.0,363.6 505.0,355.1 507.0,353.9 509.0,347.6 511.0,348.3 513.0,341.2 515.0,337.5 517.0,336.2 519.0,329.7 521.0,329.6 523.0,323.3 525.0,317.2 527.0,314.8 529.0,314.5 531.0,307.3 533.0,308.3 535.0,304.1 537.0,295.3 539.0,294.4 541.0,295.2 543.0,293.1 545.0,285.1 547.0,286.1 549.0,283.2 551.0,276.3 553.0,277.7 555.0,273.6 557.0,267.4 559.0,268.7 561.0,260.4 563.0,259.7 565.0,256.5 567.0,257.0 569.0,250.2 571.0,252.3 573.0,244.5 575.0,244.2 577.0,243.3 579.0,238.8 581.0,235.5 583.0,228.9 585.0,229.3 587.0,218.7 589.0,221.3 591.0,216.3 593.0,209.0 595.0,207.7 597.0,199.3 599.0,200.6 601.0,192.3 603.0,189.3 605.0,182.5 607.0,182.7 609.0,172.8 611.0,171.6 613.0,159.2 615.0,158.9 617.0,147.6 619.0,139.8 621.0,134.0 623.0,133.1 625.0,123.9 627.0,123.9 629.0,114.6 631.0,113.9 633.0,107.1 635.0,100.7 637.0,87.9 639.0,84.8 641.0,76.1 643.0,69.4 645.0,63.0 647.0,56.1 649.0,48.1 651.0,45.5 653.0,35.3 655.0,34.1 657.0,22.3 659.0,21.4 661.0,11.7 662.0,8.1" fill="none" stroke="#f7862a" stroke-width="1.6" stroke-linejoin="round" clip-path="url(#ca)"/>
<polyline points="83.0,566.0 85.0,566.0 87.0,566.0 89.0,566.0 91.0,566.0 93.0,566.0 95.0,566.0 97.0,566.0 99.0,566.0 101.0,566.0 103.0,565.9 105.0,565.9 107.0,565.9 109.0,565.9 111.0,565.9 113.0,565.9 115.0,565.9 117.0,565.9 119.0,565.8 121.0,565.8 123.0,565.8 125.0,565.8 127.0,565.8 129.0,565.7 131.0,565.7 133.0,565.7 135.0,565.7 137.0,565.6 139.0,565.6 141.0,565.6 143.0,565.5 145.0,565.5 147.0,565.4 149.0,565.4 151.0,565.3 153.0,565.2 155.0,565.1 157.0,565.0 159.0,564.8 161.0,564.7 163.0,564.6 165.0,564.4 167.0,564.2 169.0,564.0 171.0,563.7 173.0,563.4 175.0,563.1 177.0,562.8 179.0,562.5 181.0,562.2 183.0,561.9 185.0,561.6 187.0,561.4 189.0,561.1 191.0,560.9 193.0,560.7 195.0,560.5 197.0,560.3 199.0,560.1 201.0,560.0 203.0,559.8 205.0,559.6 207.0,559.4 209.0,559.1 211.0,558.9 213.0,558.7 215.0,558.4 217.0,558.1 219.0,557.7 221.0,557.0 223.0,556.7 225.0,556.2 227.0,556.1 229.0,555.1 231.0,555.1 233.0,554.6 235.0,553.8 237.0,553.5 239.0,552.9 241.0,552.0 243.0,552.3 245.0,551.7 247.0,551.4 249.0,550.8 251.0,550.7 253.0,550.5 255.0,550.8 257.0,550.1 259.0,550.6 261.0,550.0 263.0,549.6 265.0,550.4 267.0,549.6 269.0,550.2 271.0,549.3 273.0,549.3 275.0,549.9 277.0,549.7 279.0,549.3 281.0,548.6 283.0,548.9 285.0,548.5 287.0,548.1 289.0,547.9 291.0,547.3 293.0,546.5 295.0,545.7 297.0,545.1 299.0,545.3 301.0,543.8 303.0,543.7 305.0,542.5 307.0,542.3 309.0,540.8 311.0,539.6 313.0,539.6 315.0,538.4 317.0,537.4 319.0,536.0 321.0,534.1 323.0,532.5 325.0,532.0 327.0,530.2 329.0,528.2 331.0,526.0 333.0,523.3 335.0,522.1 337.0,519.7 339.0,517.0 341.0,516.2 343.0,513.1 345.0,512.0 347.0,509.2 349.0,507.8 351.0,505.6 353.0,502.8 355.0,498.9 357.0,496.0 359.0,494.5 361.0,492.8 363.0,490.8 365.0,483.5 367.0,480.2 369.0,478.6 371.0,476.1 373.0,475.5 375.0,475.0 377.0,474.4 379.0,471.2 381.0,470.3 383.0,470.6 385.0,473.4 387.0,473.3 389.0,471.6 391.0,471.6 393.0,469.2 395.0,469.6 397.0,469.9 399.0,469.6 401.0,468.1 403.0,469.9 405.0,469.5 407.0,471.3 409.0,470.5 411.0,466.8 413.0,465.0 415.0,465.3 417.0,462.3 419.0,460.8 421.0,459.3 423.0,460.2 425.0,458.0 427.0,457.3 429.0,459.5 431.0,457.5 433.0,456.3 435.0,452.9 437.0,451.2 439.0,451.7 441.0,447.0 443.0,446.8 445.0,445.9 447.0,441.5 449.0,442.1 451.0,438.3 453.0,437.6 455.0,436.3 457.0,434.6 459.0,432.9 461.0,428.5 463.0,424.6 465.0,423.2 467.0,420.2 469.0,419.9 471.0,416.9 473.0,414.0 475.0,407.6 477.0,404.3 479.0,404.5 481.0,399.3 483.0,400.6 485.0,397.1 487.0,391.8 489.0,391.3 491.0,383.7 493.0,384.0 495.0,375.1 497.0,374.1 499.0,366.1 501.0,366.7 503.0,356.6 505.0,357.3 507.0,348.5 509.0,344.8 511.0,346.7 513.0,341.8 515.0,333.9 517.0,334.4 519.0,332.9 521.0,325.0 523.0,319.8 525.0,318.9 527.0,310.0 529.0,305.5 531.0,307.4 533.0,299.0 535.0,298.1 537.0,291.5 539.0,291.4 541.0,285.4 543.0,287.0 545.0,284.3 547.0,277.5 549.0,278.6 551.0,276.4 553.0,273.1 555.0,263.3 557.0,266.5 559.0,258.0 561.0,252.1 563.0,250.5 565.0,249.1 567.0,245.4 569.0,237.0 571.0,238.5 573.0,228.4 575.0,229.5 577.0,220.0 579.0,221.5 581.0,211.2 583.0,204.9 585.0,198.9 587.0,201.5 589.0,195.1 591.0,184.2 593.0,177.7 595.0,172.9 597.0,163.2 599.0,157.3 601.0,148.4 603.0,143.9 605.0,144.4 607.0,133.7 609.0,135.6 611.0,134.9 613.0,124.3 615.0,117.7 617.0,101.5 619.0,83.6 621.0,80.6 623.0,66.3 625.0,60.4 627.0,52.4 629.0,51.4 631.0,37.3 633.0,26.7 635.0,22.6 637.0,8.1" fill="none" stroke="#b84bb2" stroke-width="1.6" stroke-linejoin="round" clip-path="url(#ca)"/>
<g fill="#ec2227" clip-path="url(#ci)"><rect x="130.1" y="402.1" width="3.9" height="3.9"/><rect x="129.0" y="401.4" width="3.9" height="3.9"/><rect x="130.0" y="402.2" width="3.9" height="3.9"/><rect x="130.7" y="401.1" width="3.9" height="3.9"/><rect x="131.1" y="400.9" width="3.9" height="3.9"/><rect x="128.3" y="399.8" width="3.9" height="3.9"/><rect x="127.3" y="398.5" width="3.9" height="3.9"/><rect x="128.4" y="399.0" width="3.9" height="3.9"/><rect x="129.7" y="399.1" width="3.9" height="3.9"/><rect x="131.8" y="399.2" width="3.9" height="3.9"/><rect x="131.3" y="399.4" width="3.9" height="3.9"/><rect x="129.6" y="397.4" width="3.9" height="3.9"/><rect x="131.4" y="399.1" width="3.9" height="3.9"/><rect x="132.1" y="398.7" width="3.9" height="3.9"/><rect x="132.3" y="397.3" width="3.9" height="3.9"/><rect x="131.3" y="397.1" width="3.9" height="3.9"/><rect x="131.4" y="397.8" width="3.9" height="3.9"/><rect x="132.0" y="398.0" width="3.9" height="3.9"/><rect x="132.0" y="397.1" width="3.9" height="3.9"/><rect x="131.1" y="394.9" width="3.9" height="3.9"/><rect x="132.0" y="394.7" width="3.9" height="3.9"/><rect x="133.2" y="397.7" width="3.9" height="3.9"/><rect x="133.7" y="397.2" width="3.9" height="3.9"/><rect x="132.9" y="395.8" width="3.9" height="3.9"/><rect x="132.9" y="394.7" width="3.9" height="3.9"/><rect x="133.2" y="394.7" width="3.9" height="3.9"/><rect x="133.3" y="394.8" width="3.9" height="3.9"/><rect x="133.6" y="395.3" width="3.9" height="3.9"/><rect x="136.5" y="397.2" width="3.9" height="3.9"/><rect x="137.0" y="395.9" width="3.9" height="3.9"/><rect x="135.2" y="395.1" width="3.9" height="3.9"/><rect x="135.8" y="394.6" width="3.9" height="3.9"/><rect x="135.2" y="392.8" width="3.9" height="3.9"/><rect x="136.1" y="395.2" width="3.9" height="3.9"/><rect x="137.4" y="395.8" width="3.9" height="3.9"/><rect x="135.1" y="392.6" width="3.9" height="3.9"/><rect x="135.8" y="392.9" width="3.9" height="3.9"/><rect x="134.9" y="391.0" width="3.9" height="3.9"/><rect x="137.2" y="393.4" width="3.9" height="3.9"/><rect x="138.6" y="394.6" width="3.9" height="3.9"/><rect x="137.9" y="393.4" width="3.9" height="3.9"/><rect x="137.9" y="392.1" width="3.9" height="3.9"/><rect x="138.6" y="393.7" width="3.9" height="3.9"/><rect x="139.2" y="392.7" width="3.9" height="3.9"/><rect x="138.2" y="391.8" width="3.9" height="3.9"/><rect x="138.9" y="392.0" width="3.9" height="3.9"/><rect x="139.4" y="391.5" width="3.9" height="3.9"/><rect x="138.1" y="390.2" width="3.9" height="3.9"/><rect x="138.4" y="389.9" width="3.9" height="3.9"/><rect x="138.4" y="391.0" width="3.9" height="3.9"/><rect x="140.1" y="389.8" width="3.9" height="3.9"/><rect x="140.8" y="390.7" width="3.9" height="3.9"/><rect x="139.7" y="389.7" width="3.9" height="3.9"/><rect x="140.0" y="390.1" width="3.9" height="3.9"/><rect x="138.4" y="389.0" width="3.9" height="3.9"/><rect x="139.5" y="388.3" width="3.9" height="3.9"/><rect x="139.2" y="388.8" width="3.9" height="3.9"/><rect x="138.7" y="387.3" width="3.9" height="3.9"/><rect x="142.0" y="388.8" width="3.9" height="3.9"/><rect x="139.3" y="387.9" width="3.9" height="3.9"/><rect x="140.1" y="387.6" width="3.9" height="3.9"/><rect x="138.7" y="386.2" width="3.9" height="3.9"/><rect x="142.8" y="387.7" width="3.9" height="3.9"/><rect x="142.6" y="387.9" width="3.9" height="3.9"/><rect x="143.0" y="387.3" width="3.9" height="3.9"/><rect x="138.5" y="384.8" width="3.9" height="3.9"/><rect x="141.9" y="386.7" width="3.9" height="3.9"/><rect x="142.4" y="385.5" width="3.9" height="3.9"/><rect x="142.0" y="385.7" width="3.9" height="3.9"/><rect x="139.4" y="383.5" width="3.9" height="3.9"/><rect x="142.6" y="384.8" width="3.9" height="3.9"/><rect x="144.1" y="385.2" width="3.9" height="3.9"/><rect x="141.1" y="383.7" width="3.9" height="3.9"/><rect x="142.7" y="383.1" width="3.9" height="3.9"/><rect x="142.4" y="382.1" width="3.9" height="3.9"/><rect x="142.0" y="382.4" width="3.9" height="3.9"/><rect x="143.2" y="382.9" width="3.9" height="3.9"/><rect x="142.1" y="381.2" width="3.9" height="3.9"/><rect x="140.9" y="380.9" width="3.9" height="3.9"/><rect x="145.7" y="383.2" width="3.9" height="3.9"/><rect x="142.6" y="381.0" width="3.9" height="3.9"/><rect x="145.3" y="381.7" width="3.9" height="3.9"/><rect x="148.3" y="381.9" width="3.9" height="3.9"/><rect x="143.6" y="380.0" width="3.9" height="3.9"/><rect x="146.2" y="381.3" width="3.9" height="3.9"/><rect x="145.8" y="380.7" width="3.9" height="3.9"/><rect x="146.7" y="380.9" width="3.9" height="3.9"/><rect x="144.2" y="378.1" width="3.9" height="3.9"/><rect x="146.0" y="380.3" width="3.9" height="3.9"/><rect x="145.0" y="379.4" width="3.9" height="3.9"/><rect x="148.5" y="380.7" width="3.9" height="3.9"/><rect x="143.4" y="376.8" width="3.9" height="3.9"/><rect x="146.0" y="377.7" width="3.9" height="3.9"/><rect x="145.9" y="377.9" width="3.9" height="3.9"/><rect x="146.9" y="378.3" width="3.9" height="3.9"/><rect x="145.8" y="377.6" width="3.9" height="3.9"/><rect x="148.4" y="377.6" width="3.9" height="3.9"/><rect x="147.4" y="377.1" width="3.9" height="3.9"/><rect x="146.6" y="376.6" width="3.9" height="3.9"/><rect x="147.9" y="376.7" width="3.9" height="3.9"/><rect x="148.8" y="376.3" width="3.9" height="3.9"/><rect x="148.1" y="376.1" width="3.9" height="3.9"/><rect x="147.1" y="374.5" width="3.9" height="3.9"/><rect x="148.0" y="375.6" width="3.9" height="3.9"/><rect x="150.3" y="375.7" width="3.9" height="3.9"/><rect x="148.7" y="374.3" width="3.9" height="3.9"/><rect x="148.2" y="374.3" width="3.9" height="3.9"/><rect x="147.5" y="372.9" width="3.9" height="3.9"/><rect x="151.0" y="373.6" width="3.9" height="3.9"/><rect x="148.4" y="372.6" width="3.9" height="3.9"/><rect x="151.5" y="373.7" width="3.9" height="3.9"/><rect x="147.9" y="371.7" width="3.9" height="3.9"/><rect x="149.6" y="372.4" width="3.9" height="3.9"/><rect x="149.5" y="371.8" width="3.9" height="3.9"/><rect x="150.5" y="372.2" width="3.9" height="3.9"/><rect x="150.6" y="370.7" width="3.9" height="3.9"/><rect x="150.4" y="370.7" width="3.9" height="3.9"/><rect x="149.7" y="371.2" width="3.9" height="3.9"/><rect x="150.5" y="370.5" width="3.9" height="3.9"/><rect x="153.0" y="371.5" width="3.9" height="3.9"/><rect x="151.7" y="371.1" width="3.9" height="3.9"/><rect x="150.4" y="368.9" width="3.9" height="3.9"/><rect x="151.2" y="369.9" width="3.9" height="3.9"/><rect x="152.9" y="370.7" width="3.9" height="3.9"/><rect x="152.2" y="369.1" width="3.9" height="3.9"/><rect x="151.3" y="368.2" width="3.9" height="3.9"/><rect x="152.4" y="368.5" width="3.9" height="3.9"/><rect x="153.3" y="368.4" width="3.9" height="3.9"/><rect x="154.0" y="369.2" width="3.9" height="3.9"/><rect x="153.1" y="367.8" width="3.9" height="3.9"/><rect x="152.2" y="366.3" width="3.9" height="3.9"/><rect x="150.8" y="366.1" width="3.9" height="3.9"/><rect x="155.4" y="367.2" width="3.9" height="3.9"/><rect x="153.0" y="366.7" width="3.9" height="3.9"/><rect x="154.2" y="366.0" width="3.9" height="3.9"/><rect x="153.3" y="365.6" width="3.9" height="3.9"/><rect x="155.3" y="366.5" width="3.9" height="3.9"/><rect x="152.8" y="364.7" width="3.9" height="3.9"/><rect x="156.3" y="365.9" width="3.9" height="3.9"/><rect x="154.9" y="364.9" width="3.9" height="3.9"/><rect x="154.6" y="364.2" width="3.9" height="3.9"/><rect x="155.9" y="363.8" width="3.9" height="3.9"/><rect x="155.6" y="363.5" width="3.9" height="3.9"/><rect x="154.7" y="362.6" width="3.9" height="3.9"/><rect x="158.2" y="365.3" width="3.9" height="3.9"/><rect x="154.8" y="361.8" width="3.9" height="3.9"/><rect x="155.6" y="362.2" width="3.9" height="3.9"/><rect x="158.3" y="363.0" width="3.9" height="3.9"/><rect x="154.7" y="360.2" width="3.9" height="3.9"/><rect x="153.7" y="360.8" width="3.9" height="3.9"/><rect x="156.7" y="361.5" width="3.9" height="3.9"/><rect x="158.7" y="361.8" width="3.9" height="3.9"/><rect x="157.2" y="362.5" width="3.9" height="3.9"/><rect x="157.1" y="360.5" width="3.9" height="3.9"/><rect x="159.7" y="362.4" width="3.9" height="3.9"/><rect x="159.4" y="361.8" width="3.9" height="3.9"/><rect x="158.9" y="362.0" width="3.9" height="3.9"/><rect x="157.9" y="360.7" width="3.9" height="3.9"/><rect x="158.6" y="360.5" width="3.9" height="3.9"/><rect x="159.0" y="360.1" width="3.9" height="3.9"/><rect x="159.0" y="359.0" width="3.9" height="3.9"/><rect x="159.3" y="359.4" width="3.9" height="3.9"/><rect x="161.8" y="362.1" width="3.9" height="3.9"/><rect x="157.6" y="356.1" width="3.9" height="3.9"/><rect x="162.8" y="362.4" width="3.9" height="3.9"/><rect x="161.3" y="359.7" width="3.9" height="3.9"/><rect x="160.6" y="359.2" width="3.9" height="3.9"/><rect x="163.0" y="359.3" width="3.9" height="3.9"/><rect x="161.9" y="359.5" width="3.9" height="3.9"/><rect x="162.5" y="358.8" width="3.9" height="3.9"/><rect x="161.5" y="357.9" width="3.9" height="3.9"/><rect x="162.4" y="359.1" width="3.9" height="3.9"/><rect x="162.1" y="356.7" width="3.9" height="3.9"/><rect x="162.0" y="355.8" width="3.9" height="3.9"/><rect x="164.7" y="358.9" width="3.9" height="3.9"/><rect x="163.8" y="357.0" width="3.9" height="3.9"/><rect x="164.8" y="356.8" width="3.9" height="3.9"/><rect x="165.8" y="358.3" width="3.9" height="3.9"/><rect x="163.3" y="355.1" width="3.9" height="3.9"/><rect x="163.6" y="354.8" width="3.9" height="3.9"/><rect x="163.8" y="355.6" width="3.9" height="3.9"/><rect x="167.2" y="356.8" width="3.9" height="3.9"/><rect x="166.0" y="356.0" width="3.9" height="3.9"/><rect x="167.4" y="355.7" width="3.9" height="3.9"/><rect x="165.6" y="354.8" width="3.9" height="3.9"/><rect x="166.2" y="355.6" width="3.9" height="3.9"/><rect x="165.7" y="353.5" width="3.9" height="3.9"/><rect x="165.1" y="352.8" width="3.9" height="3.9"/><rect x="167.5" y="354.3" width="3.9" height="3.9"/><rect x="166.7" y="353.1" width="3.9" height="3.9"/><rect x="166.5" y="353.1" width="3.9" height="3.9"/><rect x="168.6" y="354.6" width="3.9" height="3.9"/><rect x="167.7" y="352.9" width="3.9" height="3.9"/><rect x="168.3" y="352.5" width="3.9" height="3.9"/><rect x="166.4" y="351.5" width="3.9" height="3.9"/><rect x="168.5" y="352.6" width="3.9" height="3.9"/><rect x="166.5" y="350.3" width="3.9" height="3.9"/><rect x="166.8" y="352.3" width="3.9" height="3.9"/><rect x="167.7" y="350.9" width="3.9" height="3.9"/><rect x="166.8" y="350.5" width="3.9" height="3.9"/><rect x="168.1" y="351.0" width="3.9" height="3.9"/><rect x="168.2" y="351.6" width="3.9" height="3.9"/><rect x="170.5" y="352.0" width="3.9" height="3.9"/><rect x="169.4" y="350.3" width="3.9" height="3.9"/><rect x="169.6" y="350.3" width="3.9" height="3.9"/><rect x="169.1" y="349.2" width="3.9" height="3.9"/><rect x="168.0" y="348.8" width="3.9" height="3.9"/><rect x="171.0" y="350.2" width="3.9" height="3.9"/><rect x="171.1" y="349.6" width="3.9" height="3.9"/><rect x="169.7" y="348.3" width="3.9" height="3.9"/><rect x="172.1" y="349.4" width="3.9" height="3.9"/><rect x="172.0" y="349.4" width="3.9" height="3.9"/><rect x="172.2" y="349.1" width="3.9" height="3.9"/><rect x="172.2" y="347.7" width="3.9" height="3.9"/><rect x="170.9" y="347.3" width="3.9" height="3.9"/><rect x="171.0" y="346.0" width="3.9" height="3.9"/><rect x="170.8" y="345.8" width="3.9" height="3.9"/><rect x="173.9" y="347.4" width="3.9" height="3.9"/><rect x="173.9" y="347.6" width="3.9" height="3.9"/><rect x="173.3" y="347.1" width="3.9" height="3.9"/><rect x="173.7" y="346.3" width="3.9" height="3.9"/><rect x="174.3" y="345.4" width="3.9" height="3.9"/><rect x="172.1" y="343.9" width="3.9" height="3.9"/><rect x="174.3" y="345.3" width="3.9" height="3.9"/><rect x="175.3" y="345.3" width="3.9" height="3.9"/><rect x="174.3" y="345.2" width="3.9" height="3.9"/><rect x="177.9" y="347.0" width="3.9" height="3.9"/><rect x="177.9" y="345.2" width="3.9" height="3.9"/><rect x="172.8" y="343.0" width="3.9" height="3.9"/><rect x="174.8" y="344.1" width="3.9" height="3.9"/><rect x="175.5" y="343.7" width="3.9" height="3.9"/><rect x="174.8" y="341.8" width="3.9" height="3.9"/><rect x="175.5" y="341.7" width="3.9" height="3.9"/><rect x="174.0" y="341.2" width="3.9" height="3.9"/><rect x="177.0" y="342.3" width="3.9" height="3.9"/><rect x="175.6" y="340.7" width="3.9" height="3.9"/><rect x="175.6" y="341.5" width="3.9" height="3.9"/><rect x="177.5" y="341.3" width="3.9" height="3.9"/><rect x="175.7" y="339.8" width="3.9" height="3.9"/><rect x="177.2" y="340.6" width="3.9" height="3.9"/><rect x="176.2" y="339.8" width="3.9" height="3.9"/><rect x="178.4" y="339.7" width="3.9" height="3.9"/><rect x="176.3" y="338.1" width="3.9" height="3.9"/><rect x="174.8" y="337.3" width="3.9" height="3.9"/><rect x="176.5" y="338.7" width="3.9" height="3.9"/><rect x="177.0" y="338.2" width="3.9" height="3.9"/><rect x="177.6" y="337.4" width="3.9" height="3.9"/><rect x="175.8" y="337.1" width="3.9" height="3.9"/><rect x="173.1" y="335.9" width="3.9" height="3.9"/><rect x="176.5" y="336.4" width="3.9" height="3.9"/><rect x="176.1" y="336.1" width="3.9" height="3.9"/><rect x="180.5" y="337.4" width="3.9" height="3.9"/><rect x="177.3" y="335.8" width="3.9" height="3.9"/><rect x="178.2" y="334.9" width="3.9" height="3.9"/><rect x="181.3" y="336.4" width="3.9" height="3.9"/><rect x="176.6" y="333.2" width="3.9" height="3.9"/><rect x="179.3" y="335.3" width="3.9" height="3.9"/><rect x="181.0" y="335.0" width="3.9" height="3.9"/><rect x="180.2" y="335.2" width="3.9" height="3.9"/><rect x="177.2" y="333.7" width="3.9" height="3.9"/><rect x="177.4" y="332.6" width="3.9" height="3.9"/><rect x="179.6" y="332.6" width="3.9" height="3.9"/><rect x="178.7" y="332.7" width="3.9" height="3.9"/><rect x="179.7" y="332.8" width="3.9" height="3.9"/><rect x="179.4" y="331.6" width="3.9" height="3.9"/><rect x="178.9" y="331.8" width="3.9" height="3.9"/><rect x="179.3" y="331.7" width="3.9" height="3.9"/><rect x="181.1" y="332.2" width="3.9" height="3.9"/><rect x="179.9" y="331.8" width="3.9" height="3.9"/><rect x="181.0" y="330.8" width="3.9" height="3.9"/><rect x="179.1" y="330.5" width="3.9" height="3.9"/><rect x="178.9" y="330.0" width="3.9" height="3.9"/><rect x="182.7" y="332.4" width="3.9" height="3.9"/><rect x="180.7" y="329.6" width="3.9" height="3.9"/><rect x="180.4" y="329.4" width="3.9" height="3.9"/><rect x="182.0" y="330.0" width="3.9" height="3.9"/><rect x="180.9" y="328.9" width="3.9" height="3.9"/><rect x="182.5" y="329.7" width="3.9" height="3.9"/><rect x="180.9" y="327.7" width="3.9" height="3.9"/><rect x="182.6" y="328.9" width="3.9" height="3.9"/><rect x="182.4" y="328.8" width="3.9" height="3.9"/><rect x="181.4" y="326.8" width="3.9" height="3.9"/><rect x="182.5" y="328.0" width="3.9" height="3.9"/><rect x="183.9" y="327.5" width="3.9" height="3.9"/><rect x="183.9" y="328.1" width="3.9" height="3.9"/><rect x="185.4" y="329.0" width="3.9" height="3.9"/><rect x="184.7" y="327.5" width="3.9" height="3.9"/><rect x="184.2" y="326.9" width="3.9" height="3.9"/><rect x="184.2" y="326.7" width="3.9" height="3.9"/><rect x="183.8" y="325.5" width="3.9" height="3.9"/><rect x="185.0" y="325.0" width="3.9" height="3.9"/><rect x="185.7" y="325.7" width="3.9" height="3.9"/><rect x="185.0" y="323.8" width="3.9" height="3.9"/><rect x="186.0" y="325.8" width="3.9" height="3.9"/><rect x="185.3" y="325.3" width="3.9" height="3.9"/><rect x="186.2" y="328.6" width="3.9" height="3.9"/><rect x="186.3" y="325.7" width="3.9" height="3.9"/><rect x="187.5" y="326.8" width="3.9" height="3.9"/><rect x="187.5" y="327.9" width="3.9" height="3.9"/><rect x="188.0" y="325.3" width="3.9" height="3.9"/><rect x="187.8" y="325.0" width="3.9" height="3.9"/><rect x="188.4" y="322.4" width="3.9" height="3.9"/><rect x="188.6" y="324.2" width="3.9" height="3.9"/><rect x="188.7" y="326.2" width="3.9" height="3.9"/><rect x="189.2" y="324.1" width="3.9" height="3.9"/><rect x="190.1" y="324.5" width="3.9" height="3.9"/><rect x="190.0" y="323.8" width="3.9" height="3.9"/><rect x="190.3" y="326.4" width="3.9" height="3.9"/><rect x="191.5" y="325.6" width="3.9" height="3.9"/><rect x="191.1" y="325.7" width="3.9" height="3.9"/><rect x="192.0" y="325.2" width="3.9" height="3.9"/><rect x="194.0" y="327.4" width="3.9" height="3.9"/><rect x="192.9" y="325.4" width="3.9" height="3.9"/><rect x="193.2" y="325.0" width="3.9" height="3.9"/><rect x="192.9" y="325.0" width="3.9" height="3.9"/><rect x="193.4" y="324.4" width="3.9" height="3.9"/><rect x="195.0" y="326.0" width="3.9" height="3.9"/><rect x="195.4" y="326.7" width="3.9" height="3.9"/><rect x="193.9" y="321.9" width="3.9" height="3.9"/><rect x="194.4" y="322.3" width="3.9" height="3.9"/><rect x="195.5" y="323.6" width="3.9" height="3.9"/><rect x="195.0" y="323.2" width="3.9" height="3.9"/><rect x="196.4" y="322.4" width="3.9" height="3.9"/><rect x="198.7" y="322.7" width="3.9" height="3.9"/><rect x="197.9" y="323.5" width="3.9" height="3.9"/><rect x="197.7" y="323.8" width="3.9" height="3.9"/><rect x="198.7" y="324.2" width="3.9" height="3.9"/><rect x="196.9" y="323.7" width="3.9" height="3.9"/><rect x="195.5" y="325.3" width="3.9" height="3.9"/><rect x="197.7" y="326.0" width="3.9" height="3.9"/><rect x="196.4" y="326.6" width="3.9" height="3.9"/><rect x="196.7" y="326.8" width="3.9" height="3.9"/><rect x="198.2" y="325.7" width="3.9" height="3.9"/><rect x="199.8" y="326.0" width="3.9" height="3.9"/><rect x="198.5" y="326.7" width="3.9" height="3.9"/><rect x="198.4" y="327.1" width="3.9" height="3.9"/><rect x="198.4" y="327.5" width="3.9" height="3.9"/><rect x="199.1" y="327.9" width="3.9" height="3.9"/><rect x="197.6" y="329.4" width="3.9" height="3.9"/><rect x="198.9" y="328.1" width="3.9" height="3.9"/><rect x="203.8" y="313.4" width="3.9" height="3.9"/><rect x="198.4" y="310.1" width="3.9" height="3.9"/><rect x="201.8" y="310.8" width="3.9" height="3.9"/><rect x="206.3" y="313.4" width="3.9" height="3.9"/><rect x="201.3" y="310.6" width="3.9" height="3.9"/><rect x="200.2" y="309.1" width="3.9" height="3.9"/><rect x="204.4" y="310.5" width="3.9" height="3.9"/><rect x="206.7" y="312.0" width="3.9" height="3.9"/><rect x="200.8" y="308.2" width="3.9" height="3.9"/><rect x="200.7" y="307.9" width="3.9" height="3.9"/><rect x="201.0" y="307.8" width="3.9" height="3.9"/><rect x="203.1" y="309.0" width="3.9" height="3.9"/><rect x="204.5" y="309.2" width="3.9" height="3.9"/><rect x="204.1" y="308.0" width="3.9" height="3.9"/><rect x="203.7" y="307.8" width="3.9" height="3.9"/><rect x="205.3" y="308.3" width="3.9" height="3.9"/><rect x="202.1" y="306.0" width="3.9" height="3.9"/><rect x="200.9" y="304.6" width="3.9" height="3.9"/><rect x="206.6" y="307.0" width="3.9" height="3.9"/><rect x="207.0" y="306.7" width="3.9" height="3.9"/><rect x="207.2" y="307.0" width="3.9" height="3.9"/><rect x="208.0" y="307.3" width="3.9" height="3.9"/><rect x="209.0" y="305.7" width="3.9" height="3.9"/><rect x="204.2" y="303.9" width="3.9" height="3.9"/><rect x="207.0" y="304.9" width="3.9" height="3.9"/><rect x="206.6" y="305.2" width="3.9" height="3.9"/><rect x="209.7" y="306.1" width="3.9" height="3.9"/><rect x="204.0" y="303.0" width="3.9" height="3.9"/><rect x="209.2" y="304.2" width="3.9" height="3.9"/><rect x="208.6" y="304.0" width="3.9" height="3.9"/><rect x="208.7" y="304.0" width="3.9" height="3.9"/><rect x="208.2" y="303.5" width="3.9" height="3.9"/><rect x="209.0" y="302.7" width="3.9" height="3.9"/><rect x="208.9" y="302.2" width="3.9" height="3.9"/><rect x="209.1" y="302.2" width="3.9" height="3.9"/><rect x="207.7" y="300.0" width="3.9" height="3.9"/><rect x="206.2" y="298.9" width="3.9" height="3.9"/><rect x="207.8" y="298.3" width="3.9" height="3.9"/><rect x="210.3" y="298.4" width="3.9" height="3.9"/><rect x="210.1" y="297.7" width="3.9" height="3.9"/><rect x="212.1" y="296.8" width="3.9" height="3.9"/><rect x="209.8" y="293.7" width="3.9" height="3.9"/><rect x="214.0" y="296.1" width="3.9" height="3.9"/><rect x="213.7" y="294.5" width="3.9" height="3.9"/><rect x="215.0" y="293.4" width="3.9" height="3.9"/><rect x="211.1" y="290.3" width="3.9" height="3.9"/><rect x="213.4" y="290.0" width="3.9" height="3.9"/><rect x="212.0" y="288.3" width="3.9" height="3.9"/><rect x="213.0" y="287.7" width="3.9" height="3.9"/><rect x="214.6" y="287.9" width="3.9" height="3.9"/><rect x="217.1" y="288.5" width="3.9" height="3.9"/><rect x="217.0" y="288.3" width="3.9" height="3.9"/><rect x="218.3" y="287.2" width="3.9" height="3.9"/><rect x="219.0" y="287.3" width="3.9" height="3.9"/><rect x="217.8" y="286.0" width="3.9" height="3.9"/><rect x="217.9" y="285.3" width="3.9" height="3.9"/><rect x="218.7" y="284.5" width="3.9" height="3.9"/><rect x="219.1" y="284.0" width="3.9" height="3.9"/><rect x="221.0" y="284.3" width="3.9" height="3.9"/><rect x="221.9" y="284.0" width="3.9" height="3.9"/><rect x="224.5" y="283.1" width="3.9" height="3.9"/><rect x="225.6" y="282.9" width="3.9" height="3.9"/><rect x="221.1" y="278.5" width="3.9" height="3.9"/><rect x="224.2" y="279.9" width="3.9" height="3.9"/><rect x="225.6" y="280.4" width="3.9" height="3.9"/><rect x="224.9" y="278.5" width="3.9" height="3.9"/><rect x="226.6" y="278.3" width="3.9" height="3.9"/><rect x="228.3" y="278.3" width="3.9" height="3.9"/><rect x="227.3" y="275.2" width="3.9" height="3.9"/><rect x="229.9" y="277.3" width="3.9" height="3.9"/><rect x="229.3" y="276.8" width="3.9" height="3.9"/><rect x="227.5" y="274.8" width="3.9" height="3.9"/><rect x="227.5" y="273.3" width="3.9" height="3.9"/><rect x="229.3" y="274.7" width="3.9" height="3.9"/><rect x="227.7" y="272.0" width="3.9" height="3.9"/><rect x="225.7" y="272.1" width="3.9" height="3.9"/><rect x="229.7" y="274.7" width="3.9" height="3.9"/><rect x="226.6" y="271.5" width="3.9" height="3.9"/><rect x="229.4" y="272.8" width="3.9" height="3.9"/><rect x="226.5" y="270.6" width="3.9" height="3.9"/><rect x="227.6" y="270.9" width="3.9" height="3.9"/><rect x="227.8" y="270.2" width="3.9" height="3.9"/><rect x="228.8" y="271.0" width="3.9" height="3.9"/><rect x="228.6" y="270.5" width="3.9" height="3.9"/><rect x="233.7" y="272.6" width="3.9" height="3.9"/><rect x="231.9" y="270.8" width="3.9" height="3.9"/><rect x="231.2" y="271.2" width="3.9" height="3.9"/><rect x="227.2" y="268.8" width="3.9" height="3.9"/><rect x="228.1" y="268.5" width="3.9" height="3.9"/><rect x="230.2" y="268.7" width="3.9" height="3.9"/><rect x="235.5" y="271.3" width="3.9" height="3.9"/><rect x="232.1" y="268.5" width="3.9" height="3.9"/><rect x="229.8" y="266.7" width="3.9" height="3.9"/><rect x="231.2" y="267.6" width="3.9" height="3.9"/><rect x="237.8" y="270.6" width="3.9" height="3.9"/><rect x="229.9" y="265.8" width="3.9" height="3.9"/><rect x="233.8" y="268.0" width="3.9" height="3.9"/><rect x="230.4" y="265.2" width="3.9" height="3.9"/><rect x="234.5" y="267.3" width="3.9" height="3.9"/><rect x="230.3" y="264.1" width="3.9" height="3.9"/><rect x="229.6" y="263.0" width="3.9" height="3.9"/><rect x="231.3" y="262.1" width="3.9" height="3.9"/><rect x="233.5" y="262.9" width="3.9" height="3.9"/><rect x="231.3" y="260.7" width="3.9" height="3.9"/><rect x="236.1" y="262.3" width="3.9" height="3.9"/><rect x="238.3" y="261.4" width="3.9" height="3.9"/><rect x="238.1" y="260.4" width="3.9" height="3.9"/><rect x="236.6" y="260.3" width="3.9" height="3.9"/><rect x="238.0" y="259.2" width="3.9" height="3.9"/><rect x="239.1" y="257.3" width="3.9" height="3.9"/><rect x="242.1" y="258.5" width="3.9" height="3.9"/><rect x="239.4" y="254.2" width="3.9" height="3.9"/><rect x="240.0" y="253.8" width="3.9" height="3.9"/><rect x="243.1" y="254.8" width="3.9" height="3.9"/><rect x="239.6" y="251.9" width="3.9" height="3.9"/><rect x="243.8" y="252.5" width="3.9" height="3.9"/><rect x="238.6" y="249.3" width="3.9" height="3.9"/><rect x="245.0" y="251.7" width="3.9" height="3.9"/><rect x="243.0" y="250.1" width="3.9" height="3.9"/><rect x="244.2" y="250.8" width="3.9" height="3.9"/><rect x="245.4" y="249.8" width="3.9" height="3.9"/><rect x="242.7" y="248.3" width="3.9" height="3.9"/><rect x="245.2" y="247.8" width="3.9" height="3.9"/><rect x="246.3" y="248.8" width="3.9" height="3.9"/><rect x="241.3" y="245.1" width="3.9" height="3.9"/><rect x="245.4" y="246.3" width="3.9" height="3.9"/><rect x="247.2" y="247.4" width="3.9" height="3.9"/><rect x="245.3" y="245.0" width="3.9" height="3.9"/><rect x="247.3" y="245.4" width="3.9" height="3.9"/><rect x="247.7" y="244.6" width="3.9" height="3.9"/><rect x="249.6" y="244.9" width="3.9" height="3.9"/><rect x="249.3" y="243.6" width="3.9" height="3.9"/><rect x="247.2" y="242.2" width="3.9" height="3.9"/><rect x="246.3" y="240.7" width="3.9" height="3.9"/><rect x="254.3" y="243.7" width="3.9" height="3.9"/><rect x="251.6" y="240.6" width="3.9" height="3.9"/><rect x="249.8" y="238.3" width="3.9" height="3.9"/><rect x="249.1" y="238.1" width="3.9" height="3.9"/><rect x="251.9" y="239.7" width="3.9" height="3.9"/><rect x="248.6" y="236.7" width="3.9" height="3.9"/><rect x="252.7" y="237.5" width="3.9" height="3.9"/><rect x="254.7" y="238.4" width="3.9" height="3.9"/><rect x="249.0" y="233.6" width="3.9" height="3.9"/><rect x="251.6" y="235.0" width="3.9" height="3.9"/><rect x="252.0" y="236.0" width="3.9" height="3.9"/><rect x="246.8" y="232.6" width="3.9" height="3.9"/><rect x="247.6" y="231.7" width="3.9" height="3.9"/><rect x="251.6" y="233.5" width="3.9" height="3.9"/><rect x="254.7" y="233.2" width="3.9" height="3.9"/><rect x="254.3" y="232.9" width="3.9" height="3.9"/><rect x="252.2" y="231.4" width="3.9" height="3.9"/><rect x="253.8" y="232.7" width="3.9" height="3.9"/><rect x="251.8" y="230.1" width="3.9" height="3.9"/><rect x="259.6" y="234.6" width="3.9" height="3.9"/><rect x="255.0" y="232.1" width="3.9" height="3.9"/><rect x="252.5" y="230.0" width="3.9" height="3.9"/><rect x="258.5" y="232.0" width="3.9" height="3.9"/><rect x="253.8" y="230.2" width="3.9" height="3.9"/><rect x="246.9" y="226.4" width="3.9" height="3.9"/><rect x="252.1" y="228.8" width="3.9" height="3.9"/><rect x="253.6" y="228.6" width="3.9" height="3.9"/><rect x="252.2" y="227.6" width="3.9" height="3.9"/><rect x="256.1" y="229.7" width="3.9" height="3.9"/><rect x="253.9" y="227.1" width="3.9" height="3.9"/><rect x="256.2" y="228.0" width="3.9" height="3.9"/><rect x="258.7" y="228.6" width="3.9" height="3.9"/><rect x="255.7" y="226.9" width="3.9" height="3.9"/><rect x="256.2" y="227.0" width="3.9" height="3.9"/><rect x="256.2" y="225.8" width="3.9" height="3.9"/><rect x="253.8" y="224.2" width="3.9" height="3.9"/><rect x="255.1" y="224.3" width="3.9" height="3.9"/><rect x="259.2" y="225.2" width="3.9" height="3.9"/><rect x="256.9" y="223.1" width="3.9" height="3.9"/><rect x="255.6" y="221.1" width="3.9" height="3.9"/><rect x="254.7" y="219.8" width="3.9" height="3.9"/><rect x="258.3" y="220.0" width="3.9" height="3.9"/><rect x="255.3" y="217.9" width="3.9" height="3.9"/><rect x="258.6" y="218.0" width="3.9" height="3.9"/><rect x="255.1" y="214.9" width="3.9" height="3.9"/><rect x="261.1" y="217.9" width="3.9" height="3.9"/><rect x="257.8" y="214.9" width="3.9" height="3.9"/><rect x="256.9" y="212.3" width="3.9" height="3.9"/><rect x="262.3" y="214.0" width="3.9" height="3.9"/><rect x="260.5" y="211.4" width="3.9" height="3.9"/><rect x="258.2" y="210.5" width="3.9" height="3.9"/><rect x="263.2" y="212.5" width="3.9" height="3.9"/><rect x="259.2" y="207.8" width="3.9" height="3.9"/><rect x="259.6" y="207.6" width="3.9" height="3.9"/><rect x="260.7" y="208.3" width="3.9" height="3.9"/><rect x="263.8" y="209.0" width="3.9" height="3.9"/><rect x="259.2" y="205.2" width="3.9" height="3.9"/><rect x="264.8" y="208.6" width="3.9" height="3.9"/><rect x="265.5" y="208.6" width="3.9" height="3.9"/><rect x="266.6" y="209.3" width="3.9" height="3.9"/><rect x="263.7" y="206.3" width="3.9" height="3.9"/><rect x="267.5" y="208.7" width="3.9" height="3.9"/><rect x="264.2" y="206.1" width="3.9" height="3.9"/><rect x="264.8" y="205.1" width="3.9" height="3.9"/><rect x="261.1" y="201.8" width="3.9" height="3.9"/><rect x="266.0" y="207.0" width="3.9" height="3.9"/><rect x="266.0" y="205.7" width="3.9" height="3.9"/><rect x="265.9" y="204.8" width="3.9" height="3.9"/><rect x="265.4" y="203.4" width="3.9" height="3.9"/><rect x="272.3" y="208.3" width="3.9" height="3.9"/><rect x="266.5" y="203.7" width="3.9" height="3.9"/><rect x="267.2" y="203.5" width="3.9" height="3.9"/><rect x="269.8" y="204.9" width="3.9" height="3.9"/><rect x="268.0" y="201.8" width="3.9" height="3.9"/><rect x="274.8" y="208.5" width="3.9" height="3.9"/><rect x="270.3" y="203.2" width="3.9" height="3.9"/><rect x="265.8" y="199.4" width="3.9" height="3.9"/><rect x="269.8" y="200.7" width="3.9" height="3.9"/><rect x="269.6" y="200.5" width="3.9" height="3.9"/><rect x="271.3" y="198.7" width="3.9" height="3.9"/><rect x="269.1" y="197.6" width="3.9" height="3.9"/><rect x="268.5" y="195.7" width="3.9" height="3.9"/><rect x="270.7" y="196.3" width="3.9" height="3.9"/><rect x="269.3" y="194.9" width="3.9" height="3.9"/><rect x="269.9" y="193.3" width="3.9" height="3.9"/><rect x="268.3" y="192.1" width="3.9" height="3.9"/><rect x="273.3" y="193.9" width="3.9" height="3.9"/><rect x="271.7" y="191.3" width="3.9" height="3.9"/><rect x="273.7" y="192.8" width="3.9" height="3.9"/><rect x="273.1" y="191.2" width="3.9" height="3.9"/><rect x="274.5" y="190.7" width="3.9" height="3.9"/><rect x="266.5" y="186.4" width="3.9" height="3.9"/><rect x="272.3" y="188.3" width="3.9" height="3.9"/><rect x="278.1" y="190.4" width="3.9" height="3.9"/><rect x="275.1" y="188.6" width="3.9" height="3.9"/><rect x="273.6" y="186.5" width="3.9" height="3.9"/><rect x="280.2" y="188.7" width="3.9" height="3.9"/><rect x="276.1" y="187.1" width="3.9" height="3.9"/><rect x="277.1" y="186.0" width="3.9" height="3.9"/><rect x="277.6" y="185.0" width="3.9" height="3.9"/><rect x="273.8" y="182.9" width="3.9" height="3.9"/><rect x="279.2" y="183.9" width="3.9" height="3.9"/><rect x="274.0" y="180.7" width="3.9" height="3.9"/><rect x="274.6" y="179.8" width="3.9" height="3.9"/><rect x="284.8" y="182.0" width="3.9" height="3.9"/><rect x="285.9" y="181.1" width="3.9" height="3.9"/><rect x="281.8" y="179.3" width="3.9" height="3.9"/><rect x="276.8" y="176.4" width="3.9" height="3.9"/><rect x="280.9" y="176.3" width="3.9" height="3.9"/><rect x="284.9" y="175.9" width="3.9" height="3.9"/><rect x="281.3" y="173.4" width="3.9" height="3.9"/><rect x="280.0" y="172.2" width="3.9" height="3.9"/><rect x="278.5" y="171.9" width="3.9" height="3.9"/><rect x="281.8" y="171.9" width="3.9" height="3.9"/><rect x="284.4" y="170.9" width="3.9" height="3.9"/><rect x="281.4" y="170.2" width="3.9" height="3.9"/><rect x="277.5" y="166.2" width="3.9" height="3.9"/><rect x="281.9" y="168.0" width="3.9" height="3.9"/><rect x="281.6" y="166.7" width="3.9" height="3.9"/><rect x="275.9" y="163.4" width="3.9" height="3.9"/><rect x="288.7" y="168.6" width="3.9" height="3.9"/><rect x="280.4" y="163.2" width="3.9" height="3.9"/><rect x="285.0" y="165.3" width="3.9" height="3.9"/><rect x="284.8" y="164.9" width="3.9" height="3.9"/><rect x="284.9" y="164.1" width="3.9" height="3.9"/><rect x="282.5" y="162.2" width="3.9" height="3.9"/><rect x="281.8" y="160.9" width="3.9" height="3.9"/><rect x="289.1" y="163.7" width="3.9" height="3.9"/><rect x="287.4" y="162.1" width="3.9" height="3.9"/><rect x="288.3" y="161.4" width="3.9" height="3.9"/><rect x="286.6" y="160.7" width="3.9" height="3.9"/><rect x="288.5" y="160.4" width="3.9" height="3.9"/><rect x="287.3" y="158.9" width="3.9" height="3.9"/><rect x="287.5" y="157.3" width="3.9" height="3.9"/><rect x="285.0" y="155.7" width="3.9" height="3.9"/><rect x="285.1" y="153.7" width="3.9" height="3.9"/><rect x="280.2" y="150.4" width="3.9" height="3.9"/><rect x="291.3" y="149.9" width="3.9" height="3.9"/><rect x="287.8" y="147.1" width="3.9" height="3.9"/><rect x="283.1" y="143.8" width="3.9" height="3.9"/><rect x="294.9" y="145.6" width="3.9" height="3.9"/><rect x="286.3" y="141.5" width="3.9" height="3.9"/><rect x="284.1" y="139.2" width="3.9" height="3.9"/><rect x="285.0" y="138.7" width="3.9" height="3.9"/><rect x="289.5" y="137.9" width="3.9" height="3.9"/><rect x="294.2" y="138.7" width="3.9" height="3.9"/><rect x="288.4" y="135.3" width="3.9" height="3.9"/><rect x="293.0" y="135.4" width="3.9" height="3.9"/><rect x="295.2" y="133.3" width="3.9" height="3.9"/><rect x="295.2" y="131.3" width="3.9" height="3.9"/><rect x="302.8" y="130.3" width="3.9" height="3.9"/><rect x="288.7" y="124.8" width="3.9" height="3.9"/><rect x="287.1" y="124.3" width="3.9" height="3.9"/><rect x="299.5" y="125.8" width="3.9" height="3.9"/><rect x="293.3" y="124.6" width="3.9" height="3.9"/><rect x="293.2" y="123.6" width="3.9" height="3.9"/><rect x="295.8" y="124.0" width="3.9" height="3.9"/><rect x="289.4" y="121.9" width="3.9" height="3.9"/><rect x="298.1" y="122.7" width="3.9" height="3.9"/><rect x="296.4" y="120.8" width="3.9" height="3.9"/><rect x="292.1" y="119.8" width="3.9" height="3.9"/><rect x="295.8" y="119.5" width="3.9" height="3.9"/><rect x="294.7" y="118.9" width="3.9" height="3.9"/><rect x="294.7" y="118.4" width="3.9" height="3.9"/><rect x="303.8" y="121.0" width="3.9" height="3.9"/><rect x="292.6" y="115.5" width="3.9" height="3.9"/><rect x="298.7" y="117.1" width="3.9" height="3.9"/><rect x="298.7" y="115.3" width="3.9" height="3.9"/><rect x="295.6" y="112.7" width="3.9" height="3.9"/><rect x="294.4" y="110.7" width="3.9" height="3.9"/><rect x="300.4" y="110.3" width="3.9" height="3.9"/><rect x="303.2" y="109.0" width="3.9" height="3.9"/><rect x="299.3" y="104.6" width="3.9" height="3.9"/><rect x="299.6" y="104.0" width="3.9" height="3.9"/><rect x="303.5" y="101.5" width="3.9" height="3.9"/><rect x="305.1" y="99.1" width="3.9" height="3.9"/><rect x="299.8" y="96.8" width="3.9" height="3.9"/><rect x="299.1" y="95.1" width="3.9" height="3.9"/><rect x="300.8" y="95.7" width="3.9" height="3.9"/><rect x="302.3" y="94.3" width="3.9" height="3.9"/><rect x="304.5" y="93.3" width="3.9" height="3.9"/><rect x="303.8" y="92.9" width="3.9" height="3.9"/><rect x="305.6" y="91.6" width="3.9" height="3.9"/><rect x="306.8" y="89.8" width="3.9" height="3.9"/><rect x="302.2" y="86.4" width="3.9" height="3.9"/><rect x="304.6" y="85.5" width="3.9" height="3.9"/><rect x="302.6" y="83.1" width="3.9" height="3.9"/><rect x="303.8" y="81.4" width="3.9" height="3.9"/><rect x="304.8" y="81.6" width="3.9" height="3.9"/><rect x="307.8" y="81.3" width="3.9" height="3.9"/><rect x="307.3" y="80.6" width="3.9" height="3.9"/><rect x="308.5" y="79.4" width="3.9" height="3.9"/><rect x="307.9" y="77.6" width="3.9" height="3.9"/><rect x="303.6" y="75.7" width="3.9" height="3.9"/><rect x="302.0" y="72.7" width="3.9" height="3.9"/><rect x="312.8" y="78.8" width="3.9" height="3.9"/><rect x="316.0" y="78.6" width="3.9" height="3.9"/><rect x="314.3" y="77.2" width="3.9" height="3.9"/><rect x="312.7" y="76.5" width="3.9" height="3.9"/><rect x="310.5" y="74.0" width="3.9" height="3.9"/><rect x="309.2" y="72.5" width="3.9" height="3.9"/><rect x="308.2" y="69.3" width="3.9" height="3.9"/><rect x="312.7" y="68.9" width="3.9" height="3.9"/><rect x="318.7" y="67.0" width="3.9" height="3.9"/><rect x="317.0" y="64.4" width="3.9" height="3.9"/><rect x="319.9" y="62.6" width="3.9" height="3.9"/><rect x="320.0" y="59.5" width="3.9" height="3.9"/><rect x="311.6" y="57.4" width="3.9" height="3.9"/><rect x="319.0" y="56.3" width="3.9" height="3.9"/><rect x="308.0" y="54.0" width="3.9" height="3.9"/><rect x="313.6" y="54.5" width="3.9" height="3.9"/><rect x="309.5" y="52.1" width="3.9" height="3.9"/><rect x="314.0" y="52.1" width="3.9" height="3.9"/><rect x="318.6" y="51.8" width="3.9" height="3.9"/><rect x="313.0" y="50.1" width="3.9" height="3.9"/><rect x="314.2" y="49.3" width="3.9" height="3.9"/><rect x="317.3" y="48.7" width="3.9" height="3.9"/><rect x="315.3" y="48.6" width="3.9" height="3.9"/><rect x="314.2" y="47.2" width="3.9" height="3.9"/><rect x="315.0" y="46.2" width="3.9" height="3.9"/><rect x="311.0" y="44.0" width="3.9" height="3.9"/><rect x="313.3" y="42.1" width="3.9" height="3.9"/><rect x="321.2" y="41.8" width="3.9" height="3.9"/><rect x="319.7" y="40.3" width="3.9" height="3.9"/><rect x="315.3" y="37.3" width="3.9" height="3.9"/><rect x="322.0" y="35.8" width="3.9" height="3.9"/><rect x="135.5" y="385.7" width="3.9" height="3.9"/></g>
<polyline points="131.6,403.3 132.8,403.3 134.0,403.3 135.2,403.3 136.4,403.3 137.6,403.3 138.8,403.3 140.0,403.3 141.2,403.3 142.4,403.3 143.6,403.3 144.8,403.3 146.0,403.3 147.2,403.3 148.4,403.3 149.6,403.3 150.8,403.3 152.0,403.3 153.2,403.3 154.4,403.3 155.6,403.3 156.8,403.3 158.0,403.3 159.2,403.3 160.4,403.3 161.6,403.3 162.8,403.3 164.0,403.3 165.2,403.3 166.4,403.3 167.6,403.3 168.8,403.3 170.0,403.3 171.2,403.3 172.4,403.3 173.6,403.3 174.8,403.3 176.0,403.3 177.2,403.3 178.4,403.3 179.6,403.3 180.8,403.3 182.0,403.3 183.2,403.3 184.4,403.3 185.6,403.3 186.8,403.3 188.0,403.3 189.2,403.3 190.4,403.3 191.6,403.3 192.8,403.3 194.0,403.3 195.2,403.3 196.4,403.3 197.6,403.3 198.8,403.3 200.0,403.3 201.2,403.3 202.4,403.3 203.6,403.3 204.8,403.3 206.0,403.3 207.2,403.3 208.4,403.3 209.6,403.3 210.8,403.3 212.0,403.3 213.2,403.3 214.4,403.3 215.6,403.3 216.8,403.3 218.0,403.3 219.2,403.3 220.4,403.3 221.6,403.3 222.8,403.3 224.0,403.3 225.2,403.2 226.4,403.2 227.6,403.1 228.8,403.0 230.0,402.9 231.2,402.8 232.4,402.6 233.6,402.5 234.8,402.4 236.0,402.3 237.2,402.2 238.4,402.0 239.6,401.9 240.8,401.8 242.0,401.6 243.2,401.4 244.4,401.2 245.6,401.1 246.8,400.9 248.0,400.7 249.2,400.4 250.4,400.2 251.6,400.0 252.8,399.7 254.0,399.4 255.2,399.0 256.4,398.7 257.6,398.4 258.8,398.0 260.0,397.6 261.2,397.3 262.4,397.0 263.6,396.7 264.8,396.4 266.0,396.2 267.2,395.9 268.4,395.7 269.6,395.5 270.8,395.3 272.0,395.0 273.2,394.8 274.4,394.6 275.6,394.3 276.8,394.1 278.0,393.8 279.2,393.5 280.4,393.2 281.6,393.0 282.8,392.7 284.0,392.3 285.2,392.0 286.4,391.6 287.6,391.2 288.8,390.7 290.0,390.2 291.2,389.5 292.4,388.6 293.6,387.6 294.8,386.3 296.0,384.7 297.2,383.3 298.4,381.6 299.6,379.8 300.8,378.6 302.0,376.4 303.2,375.1 304.4,372.9 305.6,371.3 306.8,369.4 308.0,367.0 309.2,365.6 310.4,362.6 311.6,361.1 312.8,358.7 314.0,357.4 315.2,355.8 316.4,354.4 317.6,353.2 318.8,352.2 320.0,351.1 321.2,350.1 322.4,349.6 323.6,348.2 324.8,347.9 326.0,346.9 327.2,346.4 328.4,345.4 329.6,343.9 330.8,343.8 332.0,341.9 333.2,340.6 334.4,339.5 335.6,337.1 336.8,335.6 338.0,333.4 339.2,330.7 340.4,328.9 341.6,325.9 342.8,323.5 344.0,321.6 345.2,318.9 346.4,315.4 347.6,313.2 348.8,309.2 350.0,306.4 351.2,303.2 352.4,299.1 353.6,295.8 354.8,291.1 356.0,285.4 357.2,276.8 358.4,266.4 359.6,261.1 360.8,259.3 362.0,257.1 363.2,255.5 364.4,254.8 365.6,252.6 366.8,250.8 368.0,249.8 369.2,247.8 370.4,245.5 371.6,243.9 372.8,242.5 374.0,240.3 375.2,237.8 376.4,236.3 377.6,234.1 378.8,231.5 380.0,228.9 381.2,225.3 382.4,220.3 383.6,215.6 384.8,209.1 386.0,201.8 387.2,194.6 388.4,187.9 389.6,182.7 390.8,177.4 392.0,171.4 393.2,165.1 394.4,158.5 395.6,151.7 396.8,143.0 398.0,134.8 399.2,128.2 400.4,122.4 401.6,116.9 402.8,112.3 404.0,107.4 405.2,102.1 406.4,96.7 407.6,92.7 408.8,88.5 410.0,83.9 411.2,80.8 412.4,77.3 413.6,74.0 414.8,70.8 416.0,68.1 417.2,65.1 418.4,62.7 419.6,58.6 420.8,54.0 422.0,46.9 422.6,43.0" fill="none" stroke="#4b4b9c" stroke-width="1.1" stroke-linejoin="round" clip-path="url(#ci)"/>
<polyline points="948.0,599.6 951.1,558.5 954.2,582.1 957.3,531.2 960.4,558.8 963.5,513.8 966.6,546.2 969.7,512.1 972.8,541.8 975.9,504.5 979.0,533.8 982.1,523.2 985.2,495.5 988.3,519.2 991.4,495.1 994.5,511.9 997.6,491.0 1000.7,499.9 1003.8,486.7 1006.9,496.7 1010.0,473.0 1013.1,487.4 1016.2,467.6 1019.3,475.1 1022.4,459.7 1025.5,468.3 1028.6,451.4 1031.7,458.2 1034.8,441.7 1037.9,446.3 1041.0,431.9 1044.1,436.1 1047.2,423.9 1050.3,426.2 1053.4,415.4 1056.5,419.4 1059.6,410.5 1062.7,414.0 1065.8,405.6 1068.9,410.1 1072.0,400.9 1075.1,404.2 1078.2,395.9 1081.3,397.7 1084.4,388.7 1087.5,390.5 1090.6,379.3 1093.7,380.1 1096.8,369.8 1099.9,369.6 1103.0,362.8 1106.1,361.0 1109.2,354.0 1112.3,351.4 1115.4,340.9 1118.5,333.6 1121.6,326.8 1124.7,319.8 1127.8,313.6 1130.9,306.0 1134.0,299.0 1137.1,291.3 1140.2,283.7 1143.3,276.7 1146.4,268.4 1149.5,259.3 1152.6,251.7 1155.7,242.0 1158.8,234.2 1161.9,224.6 1165.0,214.4 1168.1,205.6 1171.2,197.0 1174.3,190.5 1177.4,183.9 1180.5,179.9 1183.6,178.3 1186.7,177.5 1189.8,175.3 1192.9,173.5 1196.0,171.7 1199.1,170.0 1202.2,168.7 1205.3,166.6 1208.4,164.8 1211.5,163.1 1214.6,161.1 1217.7,158.9 1220.8,156.9 1223.9,155.6 1227.0,153.8 1230.1,151.8 1233.2,149.3 1236.3,147.5 1239.4,145.4 1242.5,142.8 1245.6,140.1 1248.7,136.8 1251.8,134.2 1254.9,131.5 1258.0,129.1 1261.1,127.4 1264.2,125.1 1267.3,124.0 1270.4,122.0 1273.5,120.9 1276.6,118.7 1279.7,116.4 1282.8,114.2 1285.9,110.4 1289.0,105.5 1292.1,100.8 1295.2,96.5 1298.3,91.4 1301.4,87.2 1304.5,81.8 1307.6,76.7 1309.3,74.3" fill="none" stroke="#30327f" stroke-width="1.6" stroke-linejoin="round" clip-path="url(#cb)"/>
<polyline points="912.0,589.6 915.1,565.1 918.2,573.2 921.3,553.5 924.4,567.7 927.5,544.6 930.6,555.5 933.7,535.2 936.8,545.7 939.9,527.7 943.0,536.0 946.1,521.1 949.2,526.7 952.3,507.5 955.4,516.6 958.5,500.4 961.6,507.3 964.7,492.2 967.8,497.9 970.9,484.1 974.0,491.2 977.1,479.4 980.2,483.7 983.3,475.1 986.4,478.4 989.5,468.3 992.6,474.4 995.7,465.9 998.8,471.7 1001.9,458.0 1005.0,465.5 1008.1,456.1 1011.2,460.5 1014.3,447.8 1017.4,451.3 1020.5,441.4 1023.6,444.1 1026.7,434.1 1029.8,437.3 1032.9,431.3 1036.0,422.2 1039.1,424.4 1042.2,413.4 1045.3,414.9 1048.4,406.8 1051.5,406.6 1054.6,396.9 1057.7,395.4 1060.8,386.9 1063.9,387.5 1067.0,377.3 1070.1,377.1 1073.2,368.0 1076.3,366.6 1079.4,356.5 1082.5,353.9 1085.6,342.0 1088.7,338.7 1091.8,329.6 1094.9,323.0 1098.0,319.5 1101.1,309.0 1104.2,301.4 1107.3,294.7 1110.4,285.2 1113.5,273.5 1116.6,265.1 1119.7,258.1 1122.8,250.4 1125.9,241.3 1129.0,231.9 1132.1,224.1 1135.2,214.9 1138.3,208.9 1141.4,201.6 1144.5,195.8 1147.6,190.2 1150.7,184.3 1153.8,180.2 1156.9,177.1 1160.0,173.7 1163.1,169.3 1166.2,167.2 1169.3,164.8 1172.4,161.7 1175.5,161.0 1178.6,159.3 1181.7,156.6 1184.8,156.2 1187.9,154.2 1191.0,152.9 1194.1,151.6 1197.2,149.8 1200.3,149.0 1203.4,146.8 1206.5,145.0 1209.6,143.5 1212.7,141.9 1215.8,140.0 1218.9,138.0 1222.0,137.3 1225.1,134.6 1228.2,132.3 1231.3,131.3 1234.4,128.2 1237.5,125.5 1240.6,124.0 1243.7,120.6 1246.8,118.4 1249.9,113.8 1253.0,111.1 1256.1,107.5 1259.2,103.2 1262.3,100.6 1265.4,96.4 1268.5,93.3 1271.6,90.6 1274.7,87.4 1277.8,84.3 1280.9,80.6 1284.0,78.3 1287.1,74.5 1290.2,71.5 1293.3,68.7 1296.4,65.9 1299.5,63.1 1302.6,60.9 1305.7,58.0 1308.8,56.0 1309.3,55.1" fill="none" stroke="#3e50b0" stroke-width="1.6" stroke-linejoin="round" clip-path="url(#cb)"/>
<polyline points="885.0,584.1 888.1,563.2 891.2,570.6 894.3,547.9 897.4,558.5 900.5,539.9 903.6,546.3 906.7,527.6 909.8,524.9 912.9,536.2 916.0,520.7 919.1,531.9 922.2,517.6 925.3,524.8 928.4,513.7 931.5,520.6 934.6,518.9 937.7,505.5 940.8,510.0 943.9,497.4 947.0,501.3 950.1,490.3 953.2,492.2 956.3,481.9 959.4,486.1 962.5,475.7 965.6,480.8 968.7,479.2 971.8,466.4 974.9,472.0 978.0,460.1 981.1,462.8 984.2,454.4 987.3,456.2 990.4,446.3 993.5,446.6 996.6,437.6 999.7,441.1 1002.8,431.5 1005.9,434.1 1009.0,427.7 1012.1,430.5 1015.2,422.7 1018.3,424.6 1021.4,419.4 1024.5,420.0 1027.6,413.7 1030.7,414.2 1033.8,406.6 1036.9,407.9 1040.0,400.3 1043.1,398.9 1046.2,389.4 1049.3,385.2 1052.4,375.6 1055.5,372.0 1058.6,363.0 1061.7,357.8 1064.8,354.1 1067.9,347.0 1071.0,339.6 1074.1,331.0 1077.2,321.2 1080.3,314.7 1083.4,305.9 1086.5,294.4 1089.6,285.6 1092.7,279.2 1095.8,270.7 1098.9,266.3 1102.0,258.9 1105.1,252.9 1108.2,245.0 1111.3,238.4 1114.4,230.8 1117.5,224.6 1120.6,216.4 1123.7,209.7 1126.8,201.5 1129.9,196.1 1133.0,191.4 1136.1,188.0 1139.2,183.2 1142.3,180.3 1145.4,177.2 1148.5,173.5 1151.6,171.0 1154.7,168.3 1157.8,166.1 1160.9,164.7 1164.0,162.4 1167.1,160.6 1170.2,159.2 1173.3,156.9 1176.4,155.3 1179.5,153.4 1182.6,152.4 1185.7,150.4 1188.8,148.3 1191.9,147.2 1195.0,145.4 1198.1,143.8 1201.2,142.0 1204.3,140.3 1207.4,138.0 1210.5,136.7 1213.6,134.1 1216.7,132.7 1219.8,130.1 1222.9,128.0 1226.0,126.3 1229.1,124.1 1232.2,121.3 1235.3,119.1 1238.4,115.9 1241.5,113.0 1244.6,110.1 1247.7,107.0 1250.8,104.3 1253.9,100.6 1257.0,97.3 1260.1,93.9 1263.2,90.8 1266.3,86.8 1269.4,83.9 1272.5,80.4 1275.6,76.4 1278.7,72.9 1281.8,70.0 1284.9,66.8 1288.0,63.3 1291.1,60.6 1294.2,58.3 1297.3,55.6 1300.4,53.6 1303.5,51.9 1306.6,50.2 1309.3,49.4" fill="none" stroke="#227a37" stroke-width="1.6" stroke-linejoin="round" clip-path="url(#cb)"/>
<polyline points="881.5,542.7 884.6,516.6 887.7,526.0 890.8,500.6 893.9,516.3 897.0,493.4 900.1,509.7 903.2,491.3 906.3,504.3 909.4,481.5 912.5,498.2 915.6,477.4 918.7,491.5 921.8,477.1 924.9,483.2 928.0,468.2 931.1,478.1 934.2,462.7 937.3,470.8 940.4,459.3 943.5,466.5 946.6,461.4 949.7,451.1 952.8,445.5 955.9,451.5 959.0,441.7 962.1,444.3 965.2,438.6 968.3,430.3 971.4,426.7 974.5,428.3 977.6,419.4 980.7,421.7 983.8,412.1 986.9,411.8 990.0,403.6 993.1,405.2 996.2,397.8 999.3,396.7 1002.4,390.5 1005.5,390.7 1008.6,382.5 1011.7,382.0 1014.8,378.8 1017.9,373.6 1021.0,369.2 1024.1,362.8 1027.2,353.5 1030.3,348.7 1033.4,338.9 1036.5,332.7 1039.6,325.5 1042.7,316.5 1045.8,309.9 1048.9,300.9 1052.0,294.3 1055.1,286.3 1058.2,276.8 1061.3,269.4 1064.4,263.5 1067.5,259.2 1070.6,250.1 1073.7,244.3 1076.8,235.0 1079.9,227.8 1083.0,221.0 1086.1,214.9 1089.2,204.4 1092.3,197.9 1095.4,188.4 1098.5,183.3 1101.6,178.6 1104.7,174.4 1107.8,169.3 1110.9,166.2 1114.0,163.0 1117.1,162.0 1120.2,158.0 1123.3,155.9 1126.4,154.9 1129.5,151.4 1132.6,151.1 1135.7,147.5 1138.8,147.1 1141.9,143.6 1145.0,142.3 1148.1,140.1 1151.2,138.2 1154.3,137.7 1157.4,134.0 1160.5,132.0 1163.6,130.7 1166.7,127.7 1169.8,126.8 1172.9,125.0 1176.0,123.1 1179.1,120.2 1182.2,119.6 1185.3,120.6 1188.4,118.7 1191.5,117.5 1194.6,117.8 1197.7,114.0 1200.8,113.3 1203.9,109.7 1207.0,108.8 1210.1,104.8 1213.2,102.5 1216.3,101.3 1219.4,96.3 1222.5,93.4 1225.6,91.9 1228.7,88.6 1231.8,85.4 1234.9,82.5 1238.0,78.1 1241.1,76.8 1244.2,74.2 1247.3,69.3 1250.4,68.7 1253.5,65.6 1256.6,62.6 1259.7,58.6 1262.8,55.8 1265.9,53.8 1269.0,51.7 1272.1,47.8 1275.2,44.8 1278.3,44.0 1281.4,42.1 1284.5,38.9 1287.6,37.8 1290.7,36.1 1293.8,35.1 1296.9,34.2 1300.0,33.1 1303.1,33.5 1306.2,33.2 1309.3,30.9" fill="none" stroke="#70c04b" stroke-width="1.6" stroke-linejoin="round" clip-path="url(#cb)"/>
<polyline points="881.5,503.6 884.6,480.3 887.7,489.2 890.8,465.9 893.9,482.3 897.0,463.5 900.1,476.4 903.2,456.5 906.3,467.9 909.4,447.9 912.5,465.0 915.6,445.5 918.7,464.0 921.8,446.0 924.9,457.9 928.0,437.7 931.1,450.9 934.2,435.2 937.3,447.7 940.4,435.2 943.5,441.3 946.6,429.4 949.7,436.1 952.8,422.2 955.9,422.1 959.0,403.5 962.1,407.5 965.2,405.8 968.3,398.1 971.4,406.1 974.5,399.7 977.6,385.8 980.7,384.0 983.8,373.3 986.9,374.9 990.0,371.0 993.1,363.1 996.2,363.0 999.3,355.1 1002.4,353.9 1005.5,344.8 1008.6,338.4 1011.7,332.8 1014.8,328.7 1017.9,319.5 1021.0,315.0 1024.1,304.9 1027.2,297.9 1030.3,287.5 1033.4,281.3 1036.5,272.5 1039.6,266.9 1042.7,264.5 1045.8,260.9 1048.9,254.8 1052.0,245.4 1055.1,236.8 1058.2,227.9 1061.3,220.5 1064.4,215.5 1067.5,213.0 1070.6,206.3 1073.7,204.1 1076.8,197.0 1079.9,193.5 1083.0,186.0 1086.1,182.9 1089.2,175.5 1092.3,171.4 1095.4,170.7 1098.5,169.7 1101.6,165.8 1104.7,166.6 1107.8,163.1 1110.9,164.6 1114.0,162.7 1117.1,160.0 1120.2,155.8 1123.3,154.4 1126.4,148.7 1129.5,147.4 1132.6,144.6 1135.7,141.0 1138.8,138.9 1141.9,134.3 1145.0,133.1 1148.1,128.8 1151.2,128.5 1154.3,125.0 1157.4,124.9 1160.5,122.6 1163.6,121.6 1166.7,119.8 1169.8,116.4 1172.9,117.3 1176.0,116.3 1179.1,112.7 1182.2,112.3 1185.3,110.6 1188.4,107.3 1191.5,104.9 1194.6,102.8 1197.7,99.5 1200.8,95.4 1203.9,92.3 1207.0,91.8 1210.1,87.1 1213.2,84.6 1216.3,81.8 1219.4,80.9 1222.5,76.6 1225.6,70.9 1228.7,66.5 1231.8,63.0 1234.9,61.9 1238.0,56.9 1241.1,55.3 1244.2,50.3 1247.3,47.3 1250.4,44.9 1253.5,45.0 1256.6,42.6 1259.7,38.0 1262.8,38.3 1265.9,33.8 1269.0,32.8 1272.1,32.2 1275.2,31.0 1278.3,30.6 1281.4,32.6 1284.5,30.0 1287.6,28.7 1290.7,28.0 1293.8,27.5 1296.9,29.0 1300.0,28.4 1303.1,26.1 1306.2,25.3 1309.3,27.2" fill="none" stroke="#f7862a" stroke-width="1.6" stroke-linejoin="round" clip-path="url(#cb)"/>
<polyline points="881.5,441.9 884.6,424.2 887.7,400.2 890.8,413.6 893.9,389.5 897.0,402.6 900.1,387.8 903.2,395.4 906.3,381.7 909.4,391.0 912.5,376.1 915.6,386.7 918.7,374.0 921.8,380.9 924.9,369.4 928.0,373.5 931.1,363.1 934.2,367.3 937.3,357.4 940.4,358.0 943.5,349.5 946.6,350.5 949.7,341.5 952.8,341.7 955.9,334.8 959.0,331.5 962.1,328.6 965.2,324.4 968.3,323.4 971.4,316.7 974.5,313.1 977.6,311.5 980.7,307.8 983.8,304.1 986.9,299.0 990.0,295.3 993.1,293.0 996.2,287.2 999.3,285.3 1002.4,279.9 1005.5,275.7 1008.6,273.8 1011.7,269.1 1014.8,262.6 1017.9,261.2 1021.0,255.1 1024.1,251.1 1027.2,248.5 1030.3,243.4 1033.4,237.4 1036.5,225.5 1039.6,218.3 1042.7,208.3 1045.8,200.4 1048.9,194.0 1052.0,187.3 1055.1,183.6 1058.2,179.4 1061.3,175.2 1064.4,170.8 1067.5,168.6 1070.6,162.6 1073.7,159.1 1076.8,158.8 1079.9,155.6 1083.0,151.8 1086.1,152.5 1089.2,148.8 1092.3,150.3 1095.4,145.8 1098.5,147.3 1101.6,144.9 1104.7,140.4 1107.8,140.1 1110.9,136.0 1114.0,135.1 1117.1,132.4 1120.2,127.0 1123.3,126.7 1126.4,124.0 1129.5,119.2 1132.6,118.6 1135.7,116.5 1138.8,114.0 1141.9,109.4 1145.0,108.3 1148.1,103.8 1151.2,103.8 1154.3,98.6 1157.4,98.9 1160.5,96.4 1163.6,91.5 1166.7,91.7 1169.8,86.9 1172.9,86.1 1176.0,81.1 1179.1,80.9 1182.2,78.4 1185.3,72.7 1188.4,72.0 1191.5,70.2 1194.6,65.4 1197.7,62.3 1200.8,60.4 1203.9,60.5 1207.0,58.4 1210.1,56.4 1213.2,52.6 1216.3,50.3 1219.4,47.9 1222.5,47.0 1225.6,46.9 1228.7,42.9 1231.8,43.4 1234.9,41.1 1238.0,39.0 1241.1,35.8 1244.2,35.9 1247.3,31.8 1250.4,32.4 1253.5,28.7 1256.6,26.6 1259.7,24.9 1262.8,26.6 1265.9,24.3 1269.0,23.4 1272.1,20.5 1275.2,19.3 1278.3,17.8 1281.4,19.2 1284.5,18.2 1287.6,17.6 1290.7,16.9 1293.8,14.4 1296.9,13.4 1300.0,15.8 1303.1,15.9 1306.2,15.4 1309.3,16.0" fill="none" stroke="#b84bb2" stroke-width="1.6" stroke-linejoin="round" clip-path="url(#cb)"/>
<line x1="557.6" y1="349" x2="631" y2="349" stroke="#30327f" stroke-width="1.45"/>
<line x1="557.6" y1="389.6" x2="631" y2="389.6" stroke="#3e50b0" stroke-width="1.45"/>
<line x1="557.6" y1="429.8" x2="631" y2="429.8" stroke="#227a37" stroke-width="1.45"/>
<line x1="557.6" y1="470.1" x2="631" y2="470.1" stroke="#70c04b" stroke-width="1.45"/>
<line x1="557.6" y1="510.4" x2="631" y2="510.4" stroke="#f7862a" stroke-width="1.45"/>
<line x1="557.6" y1="550.8" x2="631" y2="550.8" stroke="#b84bb2" stroke-width="1.45"/>
<line x1="1137" y1="339.5" x2="1213.2" y2="339.5" stroke="#30327f" stroke-width="1.5"/>
<line x1="1137" y1="381.2" x2="1213.2" y2="381.2" stroke="#3e50b0" stroke-width="1.5"/>
<line x1="1137" y1="422.5" x2="1213.2" y2="422.5" stroke="#227a37" stroke-width="1.5"/>
<line x1="1137" y1="464.6" x2="1213.2" y2="464.6" stroke="#70c04b" stroke-width="1.5"/>
<line x1="1137" y1="505.9" x2="1213.2" y2="505.9" stroke="#f7862a" stroke-width="1.5"/>
<line x1="1137" y1="547.9" x2="1213.2" y2="547.9" stroke="#b84bb2" stroke-width="1.5"/>
<g fill="#000" stroke="#000" stroke-linejoin="round" font-family="Liberation Sans, sans-serif">
<text transform="translate(-1.20,36.34) scale(0.9026,1)" font-size="51.09" stroke-width="0.6" font-weight="bold" xml:space="preserve">a</text>
<text transform="translate(781.89,36.34) scale(1.0305,1)" font-size="50.61" stroke-width="0.6" font-weight="bold" xml:space="preserve">b</text>
<text transform="translate(43.18,144.75) scale(1.3622,1)" font-size="29.43" stroke-width="0.3" xml:space="preserve">2</text>
<text transform="translate(44.43,360.45) scale(1.3588,1)" font-size="29.42" stroke-width="0.3" xml:space="preserve">1</text>
<text transform="translate(43.97,576.26) scale(1.3145,1)" font-size="28.73" stroke-width="0.3" xml:space="preserve">0</text>
<text transform="translate(174.46,613.15) scale(1.2811,1)" font-size="29.58" stroke-width="0.3" xml:space="preserve">0.5</text>
<text transform="translate(469.40,613.05) scale(1.2517,1)" font-size="29.72" stroke-width="0.3" xml:space="preserve">1.0</text>
<text transform="translate(309.80,636.55) scale(1.1723,1)" font-size="33.91" stroke-width="0.3" font-style="italic" xml:space="preserve">V</text>
<text transform="translate(336.18,652.78) scale(1.3011,1)" font-size="27.32" stroke-width="0.3" xml:space="preserve">SD</text>
<text transform="translate(397.57,635.96) scale(1.3650,1)" font-size="31.87" stroke-width="0.3" xml:space="preserve">(V)</text>
<text transform="translate(101.45,117.75) scale(1.3197,1)" font-size="24.71" stroke-width="0.3" xml:space="preserve">2</text>
<text transform="translate(102.20,264.55) scale(1.4177,1)" font-size="23.62" stroke-width="0.7" xml:space="preserve">1</text>
<text transform="translate(102.33,412.12) scale(1.3146,1)" font-size="22.68" stroke-width="0.7" xml:space="preserve">0</text>
<text transform="translate(110.10,433.62) scale(1.3047,1)" font-size="23.38" stroke-width="0.7" xml:space="preserve">0.0</text>
<text transform="translate(195.10,433.62) scale(1.3092,1)" font-size="23.24" stroke-width="0.7" xml:space="preserve">0.4</text>
<text transform="translate(280.09,433.71) scale(1.3084,1)" font-size="23.52" stroke-width="0.7" xml:space="preserve">0.8</text>
<text transform="translate(365.38,433.55) scale(1.3106,1)" font-size="23.29" stroke-width="0.7" xml:space="preserve">1.2</text>
<text transform="translate(237.59,469.85) scale(1.1910,1)" font-size="29.57" stroke-width="0.3" font-style="italic" xml:space="preserve">V</text>
<text transform="translate(260.86,483.92) scale(1.3287,1)" font-size="22.82" stroke-width="0.7" xml:space="preserve">SD</text>
<text transform="translate(308.90,469.61) scale(1.3683,1)" font-size="27.81" stroke-width="0.3" xml:space="preserve">(V)</text>
<text transform="translate(151.82,145.25) scale(1.2221,1)" font-size="28.70" stroke-width="0.3" font-style="italic" xml:space="preserve">T</text>
<text transform="translate(172.64,144.97) scale(1.3227,1)" font-size="27.89" stroke-width="0.3" xml:space="preserve">=300 K</text>
<text transform="translate(260.72,306.75) scale(1.2453,1)" font-size="29.13" stroke-width="0.3" font-style="italic" xml:space="preserve">T</text>
<text transform="translate(281.94,306.75) scale(1.2801,1)" font-size="28.71" stroke-width="0.3" xml:space="preserve">=2K</text>
<text transform="translate(676.00,360.45) scale(1.2956,1)" font-size="26.00" stroke-width="0.3" xml:space="preserve">2 K</text>
<text transform="translate(657.91,400.64) scale(1.2992,1)" font-size="25.63" stroke-width="0.3" xml:space="preserve">20 K</text>
<text transform="translate(658.25,441.09) scale(1.2928,1)" font-size="25.63" stroke-width="0.3" xml:space="preserve">40 K</text>
<text transform="translate(657.91,481.54) scale(1.2992,1)" font-size="25.63" stroke-width="0.3" xml:space="preserve">65 K</text>
<text transform="translate(658.09,521.99) scale(1.2959,1)" font-size="25.63" stroke-width="0.3" xml:space="preserve">85 K</text>
<text transform="translate(640.00,562.70) scale(1.2543,1)" font-size="26.38" stroke-width="0.3" xml:space="preserve">144 K</text>
<text transform="translate(814.46,221.86) scale(1.2559,1)" font-size="29.15" stroke-width="0.3" xml:space="preserve">10</text>
<text transform="translate(855.31,201.15) scale(1.4216,1)" font-size="15.71" stroke-width="0.7" xml:space="preserve">-2</text>
<text transform="translate(814.20,435.36) scale(1.3021,1)" font-size="28.59" stroke-width="0.3" xml:space="preserve">10</text>
<text transform="translate(855.31,414.69) scale(1.3982,1)" font-size="16.06" stroke-width="0.7" xml:space="preserve">-3</text>
<text transform="translate(934.40,605.46) scale(1.2656,1)" font-size="29.30" stroke-width="0.3" xml:space="preserve">0.4</text>
<text transform="translate(1092.67,605.46) scale(1.2909,1)" font-size="29.30" stroke-width="0.3" xml:space="preserve">0.5</text>
<text transform="translate(1251.67,605.46) scale(1.2853,1)" font-size="29.30" stroke-width="0.3" xml:space="preserve">0.6</text>
<text transform="translate(1004.42,647.95) scale(1.2286,1)" font-size="35.07" stroke-width="0.3" font-style="italic" xml:space="preserve">V</text>
<text transform="translate(1032.68,665.27) scale(1.3322,1)" font-size="28.31" stroke-width="0.3" xml:space="preserve">SD</text>
<text transform="translate(1097.30,648.33) scale(1.3660,1)" font-size="33.90" stroke-width="0.3" xml:space="preserve">(V)</text>
<text transform="translate(911.45,86.08) scale(1.2861,1)" font-size="36.79" stroke-width="0.3" font-style="italic" xml:space="preserve">t</text>
<text transform="translate(936.98,85.29) scale(1.3037,1)" font-size="33.75" stroke-width="0.3" xml:space="preserve">=</text>
<text transform="translate(975.89,85.91) scale(1.3141,1)" font-size="33.94" stroke-width="0.3" xml:space="preserve">10L</text>
<text transform="translate(1231.22,352.05) scale(1.2836,1)" font-size="27.43" stroke-width="0.3" xml:space="preserve">2K</text>
<text transform="translate(1221.74,393.38) scale(1.2860,1)" font-size="27.04" stroke-width="0.3" xml:space="preserve">20K</text>
<text transform="translate(1222.52,434.98) scale(1.2696,1)" font-size="27.04" stroke-width="0.3" xml:space="preserve">40K</text>
<text transform="translate(1221.64,476.58) scale(1.2881,1)" font-size="27.04" stroke-width="0.3" xml:space="preserve">65K</text>
<text transform="translate(1221.82,518.18) scale(1.2844,1)" font-size="27.04" stroke-width="0.3" xml:space="preserve">85K</text>
<text transform="translate(1221.74,560.05) scale(1.2482,1)" font-size="27.83" stroke-width="0.3" xml:space="preserve">144K</text>
</g><g><rect transform="translate(44.43,360.45) scale(1.3588,1)" x="1.44" y="-3.10" width="5.74" height="4.20" fill="#fff"/><rect transform="translate(44.43,360.45) scale(1.3588,1)" x="10.22" y="-3.10" width="5.37" height="4.20" fill="#fff"/><rect transform="translate(469.40,613.05) scale(1.2517,1)" x="1.45" y="-3.12" width="5.78" height="4.22" fill="#fff"/><rect transform="translate(469.40,613.05) scale(1.2517,1)" x="10.34" y="-3.12" width="5.41" height="4.22" fill="#fff"/><rect transform="translate(102.20,264.55) scale(1.4177,1)" x="1.15" y="-2.86" width="4.43" height="3.96" fill="#fff"/><rect transform="translate(102.20,264.55) scale(1.4177,1)" x="8.38" y="-2.86" width="4.13" height="3.96" fill="#fff"/><rect transform="translate(365.38,433.55) scale(1.3106,1)" x="1.14" y="-2.84" width="4.34" height="3.94" fill="#fff"/><rect transform="translate(365.38,433.55) scale(1.3106,1)" x="8.29" y="-2.84" width="4.04" height="3.94" fill="#fff"/><rect transform="translate(640.00,562.70) scale(1.2543,1)" x="1.29" y="-2.87" width="5.11" height="3.97" fill="#fff"/><rect transform="translate(640.00,562.70) scale(1.2543,1)" x="9.20" y="-2.87" width="4.77" height="3.97" fill="#fff"/><rect transform="translate(814.46,221.86) scale(1.2559,1)" x="1.42" y="-3.08" width="5.67" height="4.18" fill="#fff"/><rect transform="translate(814.46,221.86) scale(1.2559,1)" x="10.15" y="-3.08" width="5.30" height="4.18" fill="#fff"/><rect transform="translate(814.20,435.36) scale(1.3021,1)" x="1.40" y="-3.04" width="5.56" height="4.14" fill="#fff"/><rect transform="translate(814.20,435.36) scale(1.3021,1)" x="9.95" y="-3.04" width="5.20" height="4.14" fill="#fff"/><rect transform="translate(975.89,85.91) scale(1.3141,1)" x="1.66" y="-3.44" width="6.65" height="4.54" fill="#fff"/><rect transform="translate(975.89,85.91) scale(1.3141,1)" x="11.76" y="-3.44" width="6.22" height="4.54" fill="#fff"/><rect transform="translate(1221.74,560.05) scale(1.2482,1)" x="1.36" y="-2.98" width="5.40" height="4.08" fill="#fff"/><rect transform="translate(1221.74,560.05) scale(1.2482,1)" x="9.70" y="-2.98" width="5.04" height="4.08" fill="#fff"/></g><g fill="#000" stroke="#000" stroke-linejoin="round" font-family="Liberation Sans, sans-serif">
<text transform="translate(31.00,333.74) rotate(-90) scale(0.17333,0.21812)" font-size="200" stroke-width="1.38" font-style="italic" xml:space="preserve">I</text>
<text transform="translate(31.00,310.83) rotate(-90) scale(0.19811,0.21812)" font-size="200" stroke-width="1.38" xml:space="preserve">(</text>
<text transform="translate(31.00,296.65) rotate(-90) scale(0.16118,0.21812)" font-size="200" stroke-width="1.38" xml:space="preserve">n</text>
<text transform="translate(31.00,279.31) rotate(-90) scale(0.15833,0.21812)" font-size="200" stroke-width="1.38" xml:space="preserve">A</text>
<text transform="translate(31.00,246.95) rotate(-90) scale(0.20192,0.21812)" font-size="200" stroke-width="1.38" xml:space="preserve">)</text>
<text transform="translate(817.90,358.81) rotate(-90) scale(0.19556,0.23623)" font-size="200" stroke-width="1.27" font-style="italic" xml:space="preserve">I</text>
<text transform="translate(817.90,336.98) rotate(-90) scale(0.15283,0.23623)" font-size="200" stroke-width="1.27" xml:space="preserve">(</text>
<text transform="translate(817.90,325.75) rotate(-90) scale(0.16941,0.23623)" font-size="200" stroke-width="1.27" xml:space="preserve">n</text>
<text transform="translate(817.90,306.92) rotate(-90) scale(0.16894,0.23623)" font-size="200" stroke-width="1.27" xml:space="preserve">A</text>
<text transform="translate(817.90,282.85) rotate(-90) scale(0.15192,0.23623)" font-size="200" stroke-width="1.27" xml:space="preserve">)</text>
</g>
</svg></body></html>
